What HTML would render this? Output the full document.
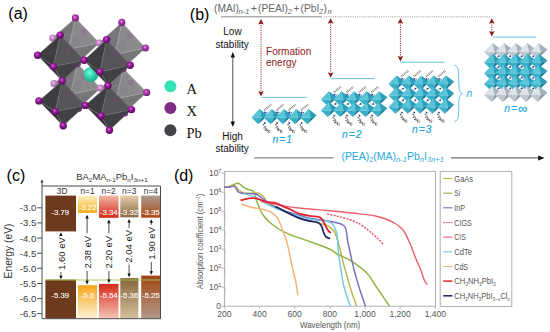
<!DOCTYPE html>
<html><head><meta charset="utf-8"><title>Figure</title>
<style>
html,body{margin:0;padding:0;background:#fff;}
body{width:550px;height:332px;overflow:hidden;}
svg{display:block;}
.san{font-family:"Liberation Sans",Arial,sans-serif;}
.ser{font-family:"Liberation Serif","Times New Roman",serif;font-size:14.5px;fill:#111;}
.lab{font-family:"Liberation Sans",Arial,sans-serif;font-size:16px;fill:#000;}
.it{font-style:italic;}
.sub{font-size:7.6px;font-style:italic;}
.subn{font-size:7.2px;}
.subc{font-size:6.2px;}
.ls{font-size:5.6px;}
</style></head><body>
<svg width="550" height="332" viewBox="0 0 550 332">
<defs>
<radialGradient id="xd" cx="0.42" cy="0.38" r="0.6"><stop offset="0" stop-color="#e070e0"/><stop offset="0.35" stop-color="#a020a4"/><stop offset="1" stop-color="#5a0a5e"/></radialGradient>
<radialGradient id="xm" cx="0.42" cy="0.38" r="0.6"><stop offset="0" stop-color="#ee90ee"/><stop offset="0.35" stop-color="#b040b4"/><stop offset="1" stop-color="#7a207e"/></radialGradient>
<radialGradient id="xl" cx="0.42" cy="0.38" r="0.6"><stop offset="0" stop-color="#f4c8f4"/><stop offset="0.4" stop-color="#c88aca"/><stop offset="1" stop-color="#a868aa"/></radialGradient>
<radialGradient id="aA" cx="0.4" cy="0.38" r="0.65"><stop offset="0" stop-color="#8af5dc"/><stop offset="0.4" stop-color="#35dcb4"/><stop offset="1" stop-color="#18a888"/></radialGradient>
<filter id="blurA" x="-5%" y="-5%" width="110%" height="110%"><feGaussianBlur stdDeviation="0.35"/></filter>
<filter id="blurB" x="-5%" y="-5%" width="110%" height="110%"><feGaussianBlur stdDeviation="0.3"/></filter><linearGradient id="g1t" x1="0" y1="0" x2="0" y2="1"><stop offset="0" stop-color="#fdf0c0"/><stop offset="1" stop-color="#f5ae1c"/></linearGradient><linearGradient id="g1b" x1="0" y1="0" x2="0" y2="1"><stop offset="0" stop-color="#f5a61a"/><stop offset="1" stop-color="#fef2d6"/></linearGradient><linearGradient id="g2t" x1="0" y1="0" x2="0" y2="1"><stop offset="0" stop-color="#f2b8a4"/><stop offset="1" stop-color="#d42818"/></linearGradient><linearGradient id="g2b" x1="0" y1="0" x2="0" y2="1"><stop offset="0" stop-color="#d62a1a"/><stop offset="1" stop-color="#f4c4b6"/></linearGradient><linearGradient id="g3t" x1="0" y1="0" x2="0" y2="1"><stop offset="0" stop-color="#e4ccaa"/><stop offset="1" stop-color="#8a6a44"/></linearGradient><linearGradient id="g3b" x1="0" y1="0" x2="0" y2="1"><stop offset="0" stop-color="#86643a"/><stop offset="1" stop-color="#d6c09a"/></linearGradient><linearGradient id="g4t" x1="0" y1="0" x2="0" y2="1"><stop offset="0" stop-color="#aa9a90"/><stop offset="1" stop-color="#ae4814"/></linearGradient><linearGradient id="g4b" x1="0" y1="0" x2="0" y2="1"><stop offset="0" stop-color="#a04614"/><stop offset="1" stop-color="#b49888"/></linearGradient></defs>
<rect width="550" height="332" fill="#fff"/>
<g id="panel-a">
<g filter="url(#blurA)">
<polygon points="52.8,38 75.4,17.9 68.6,49.3" fill="#767678"/><polygon points="75.4,17.9 99.3,43 68.6,49.3" fill="#8a8a8c"/><polygon points="99.3,43 77.4,63.6 68.6,49.3" fill="#767678"/><polygon points="77.4,63.6 52.8,38 68.6,49.3" fill="#666668"/><circle cx="76" cy="40.8" r="4.6" fill="#84848a" opacity="0.8"/><circle cx="83.5" cy="32.2" r="3" fill="#8a3a8c" opacity="0.2"/><line x1="83.5" y1="32.2" x2="52.8" y2="38" stroke="#a0a0a2" stroke-width="0.5" opacity="0.35"/><line x1="83.5" y1="32.2" x2="75.4" y2="17.9" stroke="#a0a0a2" stroke-width="0.5" opacity="0.35"/><line x1="83.5" y1="32.2" x2="99.3" y2="43" stroke="#a0a0a2" stroke-width="0.5" opacity="0.35"/><line x1="83.5" y1="32.2" x2="77.4" y2="63.6" stroke="#a0a0a2" stroke-width="0.5" opacity="0.35"/><line x1="68.6" y1="49.3" x2="52.8" y2="38" stroke="#a0a0a2" stroke-width="0.7"/><line x1="68.6" y1="49.3" x2="75.4" y2="17.9" stroke="#a0a0a2" stroke-width="0.7"/><line x1="68.6" y1="49.3" x2="99.3" y2="43" stroke="#a0a0a2" stroke-width="0.7"/><line x1="68.6" y1="49.3" x2="77.4" y2="63.6" stroke="#a0a0a2" stroke-width="0.7"/><polygon points="52.8,38 75.4,17.9 99.3,43 77.4,63.6" fill="none" stroke="#a0a0a2" stroke-width="0.6"/>
<polygon points="99.3,43 121.8,22.4 115.1,54.5" fill="#767678"/><polygon points="121.8,22.4 145.4,48 115.1,54.5" fill="#8a8a8c"/><polygon points="145.4,48 123.2,68.4 115.1,54.5" fill="#767678"/><polygon points="123.2,68.4 99.3,43 115.1,54.5" fill="#666668"/><circle cx="122.3" cy="45.4" r="4.6" fill="#84848a" opacity="0.8"/><circle cx="129.6" cy="36.3" r="3" fill="#8a3a8c" opacity="0.2"/><line x1="129.6" y1="36.3" x2="99.3" y2="43" stroke="#a0a0a2" stroke-width="0.5" opacity="0.35"/><line x1="129.6" y1="36.3" x2="121.8" y2="22.4" stroke="#a0a0a2" stroke-width="0.5" opacity="0.35"/><line x1="129.6" y1="36.3" x2="145.4" y2="48" stroke="#a0a0a2" stroke-width="0.5" opacity="0.35"/><line x1="129.6" y1="36.3" x2="123.2" y2="68.4" stroke="#a0a0a2" stroke-width="0.5" opacity="0.35"/><line x1="115.1" y1="54.5" x2="99.3" y2="43" stroke="#a0a0a2" stroke-width="0.7"/><line x1="115.1" y1="54.5" x2="121.8" y2="22.4" stroke="#a0a0a2" stroke-width="0.7"/><line x1="115.1" y1="54.5" x2="145.4" y2="48" stroke="#a0a0a2" stroke-width="0.7"/><line x1="115.1" y1="54.5" x2="123.2" y2="68.4" stroke="#a0a0a2" stroke-width="0.7"/><polygon points="99.3,43 121.8,22.4 145.4,48 123.2,68.4" fill="none" stroke="#a0a0a2" stroke-width="0.6"/>
<polygon points="54.1,83.7 77.4,63.6 70.4,94.4" fill="#767678"/><polygon points="77.4,63.6 100.5,88.2 70.4,94.4" fill="#8a8a8c"/><polygon points="100.5,88.2 78.4,108.5 70.4,94.4" fill="#767678"/><polygon points="78.4,108.5 54.1,83.7 70.4,94.4" fill="#666668"/><circle cx="77.3" cy="86" r="4.6" fill="#84848a" opacity="0.8"/><circle cx="84.2" cy="77.7" r="3" fill="#8a3a8c" opacity="0.2"/><line x1="84.2" y1="77.7" x2="54.1" y2="83.7" stroke="#a0a0a2" stroke-width="0.5" opacity="0.35"/><line x1="84.2" y1="77.7" x2="77.4" y2="63.6" stroke="#a0a0a2" stroke-width="0.5" opacity="0.35"/><line x1="84.2" y1="77.7" x2="100.5" y2="88.2" stroke="#a0a0a2" stroke-width="0.5" opacity="0.35"/><line x1="84.2" y1="77.7" x2="78.4" y2="108.5" stroke="#a0a0a2" stroke-width="0.5" opacity="0.35"/><line x1="70.4" y1="94.4" x2="54.1" y2="83.7" stroke="#a0a0a2" stroke-width="0.7"/><line x1="70.4" y1="94.4" x2="77.4" y2="63.6" stroke="#a0a0a2" stroke-width="0.7"/><line x1="70.4" y1="94.4" x2="100.5" y2="88.2" stroke="#a0a0a2" stroke-width="0.7"/><line x1="70.4" y1="94.4" x2="78.4" y2="108.5" stroke="#a0a0a2" stroke-width="0.7"/><polygon points="54.1,83.7 77.4,63.6 100.5,88.2 78.4,108.5" fill="none" stroke="#a0a0a2" stroke-width="0.6"/>
<polygon points="100.5,88.2 123.2,68.4 116.3,98.7" fill="#767678"/><polygon points="123.2,68.4 146.7,92.4 116.3,98.7" fill="#8a8a8c"/><polygon points="146.7,92.4 124.6,113 116.3,98.7" fill="#767678"/><polygon points="124.6,113 100.5,88.2 116.3,98.7" fill="#666668"/><circle cx="123.6" cy="90.7" r="4.6" fill="#84848a" opacity="0.8"/><circle cx="130.9" cy="82.7" r="3" fill="#8a3a8c" opacity="0.2"/><line x1="130.9" y1="82.7" x2="100.5" y2="88.2" stroke="#a0a0a2" stroke-width="0.5" opacity="0.35"/><line x1="130.9" y1="82.7" x2="123.2" y2="68.4" stroke="#a0a0a2" stroke-width="0.5" opacity="0.35"/><line x1="130.9" y1="82.7" x2="146.7" y2="92.4" stroke="#a0a0a2" stroke-width="0.5" opacity="0.35"/><line x1="130.9" y1="82.7" x2="124.6" y2="113" stroke="#a0a0a2" stroke-width="0.5" opacity="0.35"/><line x1="116.3" y1="98.7" x2="100.5" y2="88.2" stroke="#a0a0a2" stroke-width="0.7"/><line x1="116.3" y1="98.7" x2="123.2" y2="68.4" stroke="#a0a0a2" stroke-width="0.7"/><line x1="116.3" y1="98.7" x2="146.7" y2="92.4" stroke="#a0a0a2" stroke-width="0.7"/><line x1="116.3" y1="98.7" x2="124.6" y2="113" stroke="#a0a0a2" stroke-width="0.7"/><polygon points="100.5,88.2 123.2,68.4 146.7,92.4 124.6,113" fill="none" stroke="#a0a0a2" stroke-width="0.6"/>
<circle cx="52.8" cy="38" r="3.6" fill="url(#xl)"/>
<circle cx="75.4" cy="17.9" r="3.6" fill="url(#xm)"/>
<circle cx="99.3" cy="43" r="3.6" fill="url(#xl)"/>
<circle cx="77.4" cy="63.6" r="3.6" fill="url(#xm)"/>
<circle cx="121.8" cy="22.4" r="3.6" fill="url(#xm)"/>
<circle cx="145.4" cy="48" r="3.6" fill="url(#xm)"/>
<circle cx="123.2" cy="68.4" r="3.6" fill="url(#xm)"/>
<circle cx="54.1" cy="83.7" r="3.6" fill="url(#xl)"/>
<circle cx="100.5" cy="88.2" r="3.6" fill="url(#xl)"/>
<circle cx="78.4" cy="108.5" r="3.6" fill="url(#xm)"/>
<circle cx="146.7" cy="92.4" r="3.6" fill="url(#xm)"/>
<circle cx="124.6" cy="113" r="3.6" fill="url(#xm)"/>
<circle cx="91" cy="74.4" r="7.5" fill="url(#aA)"/>
<polygon points="37.6,55.2 60.2,35.1 53.4,66.5" fill="#3c3c40"/><polygon points="60.2,35.1 84.1,60.2 53.4,66.5" fill="#545458"/><polygon points="84.1,60.2 62.2,80.8 53.4,66.5" fill="#404044"/><polygon points="62.2,80.8 37.6,55.2 53.4,66.5" fill="#303034"/><circle cx="60.8" cy="58" r="4.6" fill="#56565a" opacity="0.8"/><circle cx="68.3" cy="49.4" r="3" fill="#8a3a8c" opacity="0.2"/><line x1="68.3" y1="49.4" x2="37.6" y2="55.2" stroke="#6e6e72" stroke-width="0.5" opacity="0.35"/><line x1="68.3" y1="49.4" x2="60.2" y2="35.1" stroke="#6e6e72" stroke-width="0.5" opacity="0.35"/><line x1="68.3" y1="49.4" x2="84.1" y2="60.2" stroke="#6e6e72" stroke-width="0.5" opacity="0.35"/><line x1="68.3" y1="49.4" x2="62.2" y2="80.8" stroke="#6e6e72" stroke-width="0.5" opacity="0.35"/><line x1="53.4" y1="66.5" x2="37.6" y2="55.2" stroke="#6e6e72" stroke-width="0.7"/><line x1="53.4" y1="66.5" x2="60.2" y2="35.1" stroke="#6e6e72" stroke-width="0.7"/><line x1="53.4" y1="66.5" x2="84.1" y2="60.2" stroke="#6e6e72" stroke-width="0.7"/><line x1="53.4" y1="66.5" x2="62.2" y2="80.8" stroke="#6e6e72" stroke-width="0.7"/><polygon points="37.6,55.2 60.2,35.1 84.1,60.2 62.2,80.8" fill="none" stroke="#6e6e72" stroke-width="0.6"/>
<polygon points="84.1,60.2 106.6,39.6 99.9,71.7" fill="#3c3c40"/><polygon points="106.6,39.6 130.2,65.2 99.9,71.7" fill="#545458"/><polygon points="130.2,65.2 108,85.6 99.9,71.7" fill="#404044"/><polygon points="108,85.6 84.1,60.2 99.9,71.7" fill="#303034"/><circle cx="107.1" cy="62.6" r="4.6" fill="#56565a" opacity="0.8"/><circle cx="114.4" cy="53.5" r="3" fill="#8a3a8c" opacity="0.2"/><line x1="114.4" y1="53.5" x2="84.1" y2="60.2" stroke="#6e6e72" stroke-width="0.5" opacity="0.35"/><line x1="114.4" y1="53.5" x2="106.6" y2="39.6" stroke="#6e6e72" stroke-width="0.5" opacity="0.35"/><line x1="114.4" y1="53.5" x2="130.2" y2="65.2" stroke="#6e6e72" stroke-width="0.5" opacity="0.35"/><line x1="114.4" y1="53.5" x2="108" y2="85.6" stroke="#6e6e72" stroke-width="0.5" opacity="0.35"/><line x1="99.9" y1="71.7" x2="84.1" y2="60.2" stroke="#6e6e72" stroke-width="0.7"/><line x1="99.9" y1="71.7" x2="106.6" y2="39.6" stroke="#6e6e72" stroke-width="0.7"/><line x1="99.9" y1="71.7" x2="130.2" y2="65.2" stroke="#6e6e72" stroke-width="0.7"/><line x1="99.9" y1="71.7" x2="108" y2="85.6" stroke="#6e6e72" stroke-width="0.7"/><polygon points="84.1,60.2 106.6,39.6 130.2,65.2 108,85.6" fill="none" stroke="#6e6e72" stroke-width="0.6"/>
<polygon points="38.9,100.9 62.2,80.8 55.2,111.6" fill="#3c3c40"/><polygon points="62.2,80.8 85.3,105.4 55.2,111.6" fill="#545458"/><polygon points="85.3,105.4 63.2,125.7 55.2,111.6" fill="#404044"/><polygon points="63.2,125.7 38.9,100.9 55.2,111.6" fill="#303034"/><circle cx="62.1" cy="103.2" r="4.6" fill="#56565a" opacity="0.8"/><circle cx="69" cy="94.9" r="3" fill="#8a3a8c" opacity="0.2"/><line x1="69" y1="94.9" x2="38.9" y2="100.9" stroke="#6e6e72" stroke-width="0.5" opacity="0.35"/><line x1="69" y1="94.9" x2="62.2" y2="80.8" stroke="#6e6e72" stroke-width="0.5" opacity="0.35"/><line x1="69" y1="94.9" x2="85.3" y2="105.4" stroke="#6e6e72" stroke-width="0.5" opacity="0.35"/><line x1="69" y1="94.9" x2="63.2" y2="125.7" stroke="#6e6e72" stroke-width="0.5" opacity="0.35"/><line x1="55.2" y1="111.6" x2="38.9" y2="100.9" stroke="#6e6e72" stroke-width="0.7"/><line x1="55.2" y1="111.6" x2="62.2" y2="80.8" stroke="#6e6e72" stroke-width="0.7"/><line x1="55.2" y1="111.6" x2="85.3" y2="105.4" stroke="#6e6e72" stroke-width="0.7"/><line x1="55.2" y1="111.6" x2="63.2" y2="125.7" stroke="#6e6e72" stroke-width="0.7"/><polygon points="38.9,100.9 62.2,80.8 85.3,105.4 63.2,125.7" fill="none" stroke="#6e6e72" stroke-width="0.6"/>
<polygon points="85.3,105.4 108,85.6 101.1,115.9" fill="#3c3c40"/><polygon points="108,85.6 131.5,109.6 101.1,115.9" fill="#545458"/><polygon points="131.5,109.6 109.4,130.2 101.1,115.9" fill="#404044"/><polygon points="109.4,130.2 85.3,105.4 101.1,115.9" fill="#303034"/><circle cx="108.4" cy="107.9" r="4.6" fill="#56565a" opacity="0.8"/><circle cx="115.7" cy="99.9" r="3" fill="#8a3a8c" opacity="0.2"/><line x1="115.7" y1="99.9" x2="85.3" y2="105.4" stroke="#6e6e72" stroke-width="0.5" opacity="0.35"/><line x1="115.7" y1="99.9" x2="108" y2="85.6" stroke="#6e6e72" stroke-width="0.5" opacity="0.35"/><line x1="115.7" y1="99.9" x2="131.5" y2="109.6" stroke="#6e6e72" stroke-width="0.5" opacity="0.35"/><line x1="115.7" y1="99.9" x2="109.4" y2="130.2" stroke="#6e6e72" stroke-width="0.5" opacity="0.35"/><line x1="101.1" y1="115.9" x2="85.3" y2="105.4" stroke="#6e6e72" stroke-width="0.7"/><line x1="101.1" y1="115.9" x2="108" y2="85.6" stroke="#6e6e72" stroke-width="0.7"/><line x1="101.1" y1="115.9" x2="131.5" y2="109.6" stroke="#6e6e72" stroke-width="0.7"/><line x1="101.1" y1="115.9" x2="109.4" y2="130.2" stroke="#6e6e72" stroke-width="0.7"/><polygon points="85.3,105.4 108,85.6 131.5,109.6 109.4,130.2" fill="none" stroke="#6e6e72" stroke-width="0.6"/>
<circle cx="37.6" cy="55.2" r="3.7" fill="url(#xd)"/>
<circle cx="60.2" cy="35.1" r="3.7" fill="url(#xd)"/>
<circle cx="84.1" cy="60.2" r="3.7" fill="url(#xd)"/>
<circle cx="62.2" cy="80.8" r="3.7" fill="url(#xd)"/>
<circle cx="53.4" cy="66.5" r="3.7" fill="url(#xd)"/>
<circle cx="106.6" cy="39.6" r="3.7" fill="url(#xd)"/>
<circle cx="130.2" cy="65.2" r="3.7" fill="url(#xd)"/>
<circle cx="108" cy="85.6" r="3.7" fill="url(#xd)"/>
<circle cx="99.9" cy="71.7" r="3.7" fill="url(#xd)"/>
<circle cx="38.9" cy="100.9" r="3.7" fill="url(#xd)"/>
<circle cx="85.3" cy="105.4" r="3.7" fill="url(#xd)"/>
<circle cx="63.2" cy="125.7" r="3.7" fill="url(#xd)"/>
<circle cx="55.2" cy="111.6" r="3.7" fill="url(#xd)"/>
<circle cx="131.5" cy="109.6" r="3.7" fill="url(#xd)"/>
<circle cx="109.4" cy="130.2" r="3.7" fill="url(#xd)"/>
<circle cx="101.1" cy="115.9" r="3.7" fill="url(#xd)"/>
</g>
<circle cx="170.4" cy="86.3" r="6" fill="#33e3b6"/>
<circle cx="170.4" cy="108.1" r="6" fill="#7f2c84"/>
<circle cx="170.4" cy="130.2" r="6" fill="#424248"/>
<text x="186.5" y="93.8" class="ser">A</text>
<text x="186.5" y="116.4" class="ser">X</text>
<text x="186.5" y="137.7" class="ser">Pb</text>
<text x="8.3" y="18.9" class="lab">(a)</text>
</g>
<g id="panel-b">
<text x="189.8" y="20" class="lab">(b)</text>
<text y="12" class="san" font-size="10.2" fill="#666"><tspan x="214">(MAI)</tspan><tspan class="sub" dy="2.2" dx="-0.4">n-1</tspan><tspan dy="-2.2" x="251">+</tspan><tspan x="258">(PEAI)</tspan><tspan class="sub" dy="2.2" dx="-0.3">2</tspan><tspan dy="-2.2" x="293.4">+</tspan><tspan x="300.6">(PbI</tspan><tspan class="sub" dy="2.2" dx="-0.2">2</tspan><tspan dy="-2.2" dx="0.2">)</tspan><tspan class="sub" dy="2.2" dx="0.6">n</tspan></text>
<line x1="220.9" y1="16.8" x2="322" y2="16.8" stroke="#8a8a8a" stroke-width="1"/>
<line x1="324" y1="16.8" x2="491.8" y2="16.8" stroke="#8f807c" stroke-width="0.75" stroke-dasharray="1.1 1.1"/>
<line x1="261" y1="23" x2="261" y2="92.5" stroke="#8c1c1c" stroke-width="0.9" stroke-dasharray="1.2 1.1"/><polygon points="261,19 258.2,24.6 261,23.5 263.8,24.6" fill="#8c1c1c"/><polygon points="261,96.5 258.2,90.9 261,92 263.8,90.9" fill="#8c1c1c"/>
<line x1="330.6" y1="22.2" x2="330.6" y2="73.8" stroke="#8c1c1c" stroke-width="0.9" stroke-dasharray="1.2 1.1"/><polygon points="330.6,18.2 327.8,23.8 330.6,22.7 333.4,23.8" fill="#8c1c1c"/><polygon points="330.6,77.8 327.8,72.2 330.6,73.3 333.4,72.2" fill="#8c1c1c"/>
<line x1="400.4" y1="22.2" x2="400.4" y2="57.4" stroke="#8c1c1c" stroke-width="0.9" stroke-dasharray="1.2 1.1"/><polygon points="400.4,18.2 397.6,23.8 400.4,22.7 403.2,23.8" fill="#8c1c1c"/><polygon points="400.4,61.4 397.6,55.8 400.4,56.9 403.2,55.8" fill="#8c1c1c"/>
<line x1="491.8" y1="22.2" x2="491.8" y2="32.6" stroke="#8c1c1c" stroke-width="0.9" stroke-dasharray="1.2 1.1"/><polygon points="491.8,18.2 489,23.8 491.8,22.7 494.6,23.8" fill="#8c1c1c"/><polygon points="491.8,36.6 489,31 491.8,32.1 494.6,31" fill="#8c1c1c"/>
<line x1="261.5" y1="97.4" x2="306.4" y2="97.4" stroke="#52bde9" stroke-width="0.9"/>
<line x1="330.6" y1="78.6" x2="374.5" y2="78.6" stroke="#52bde9" stroke-width="0.9"/>
<line x1="400" y1="62.2" x2="444.6" y2="62.2" stroke="#52bde9" stroke-width="0.9"/>
<line x1="493" y1="37.1" x2="536.2" y2="37.1" stroke="#52bde9" stroke-width="0.9"/>
<text x="232.5" y="34.9" class="san" font-size="10" text-anchor="middle" fill="#111">Low</text>
<text x="232.2" y="47.5" class="san" font-size="10" text-anchor="middle" fill="#111">stability</text>
<text x="232.5" y="140.4" class="san" font-size="10" text-anchor="middle" fill="#111">High</text>
<text x="232.2" y="152.1" class="san" font-size="10" text-anchor="middle" fill="#111">stability</text>
<line x1="232.8" y1="56" x2="232.8" y2="123" stroke="#222" stroke-width="0.8"/>
<polygon points="232.8,52 230.6,57.6 235,57.6" fill="#111"/>
<polygon points="232.8,127.1 230.6,121.5 235,121.5" fill="#111"/>
<text x="266" y="54.5" class="san" font-size="10.05" fill="#8c1c1c">Formation</text>
<text x="266" y="65.9" class="san" font-size="10" fill="#8c1c1c">energy</text>
<g filter="url(#blurB)">
<polygon points="251.5,117.4 259.4,109 261.5,117.9" fill="#58c4d7"/><polygon points="259.4,109 267.7,115.2 261.5,117.9" fill="#2c9fbb"/><polygon points="251.5,117.4 261.5,117.9 258.3,124.2" fill="#38afc8"/><polygon points="261.5,117.9 267.7,115.2 258.3,124.2" fill="#157d99"/><polygon points="263.8,117.4 271.6,109 273.7,117.9" fill="#58c4d7"/><polygon points="271.6,109 279.9,115.2 273.7,117.9" fill="#2c9fbb"/><polygon points="263.8,117.4 273.7,117.9 270.5,124.2" fill="#38afc8"/><polygon points="273.7,117.9 279.9,115.2 270.5,124.2" fill="#157d99"/><polygon points="276,117.4 283.9,109 286,117.9" fill="#58c4d7"/><polygon points="283.9,109 292.2,115.2 286,117.9" fill="#2c9fbb"/><polygon points="276,117.4 286,117.9 282.8,124.2" fill="#38afc8"/><polygon points="286,117.9 292.2,115.2 282.8,124.2" fill="#157d99"/><polygon points="288.3,117.4 296.2,109 298.3,117.9" fill="#58c4d7"/><polygon points="296.2,109 304.4,115.2 298.3,117.9" fill="#2c9fbb"/><polygon points="288.3,117.4 298.3,117.9 295.1,124.2" fill="#38afc8"/><polygon points="298.3,117.9 304.4,115.2 295.1,124.2" fill="#157d99"/><polygon points="300.5,117.4 308.4,109 310.5,117.9" fill="#58c4d7"/><polygon points="308.4,109 316.7,115.2 310.5,117.9" fill="#2c9fbb"/><polygon points="300.5,117.4 310.5,117.9 307.3,124.2" fill="#38afc8"/><polygon points="310.5,117.9 316.7,115.2 307.3,124.2" fill="#157d99"/><path d="M264.3 110.2 l6.8 -5.8" fill="none" stroke="#6a6a6a" stroke-width="1.9" stroke-dasharray="0.85 0.8"/><path d="M264.7 110 l6.4 -5.4" fill="none" stroke="#fff" stroke-width="0.5" stroke-dasharray="1.3 1.1" opacity="0.8"/><circle cx="264.9" cy="112.4" r="0.9" fill="#2a3a9a"/><circle cx="266.7" cy="112.7" r="0.6" fill="#444"/><circle cx="264.8" cy="123" r="0.9" fill="#2a3a9a"/><circle cx="263.4" cy="124.6" r="0.6" fill="#444"/><path d="M263.6 125 l1.6 1.6 l-1 1.2 l2.6 .6 l-1.2 1.4 l3 .8 l-1 1.4 l2.4 .6" fill="none" stroke="#6a6a6a" stroke-width="1.4" stroke-dasharray="0.85 0.8"/><path d="M264.8 129.6 l2.2 1 l2 -.4 l1.6 1" fill="none" stroke="#666" stroke-width="1.1" stroke-dasharray=".8 .7"/><path d="M276.6 110.2 l6.8 -5.8" fill="none" stroke="#6a6a6a" stroke-width="1.9" stroke-dasharray="0.85 0.8"/><path d="M277 110 l6.4 -5.4" fill="none" stroke="#fff" stroke-width="0.5" stroke-dasharray="1.3 1.1" opacity="0.8"/><circle cx="277.2" cy="112.4" r="0.9" fill="#2a3a9a"/><circle cx="279" cy="112.7" r="0.6" fill="#444"/><circle cx="277.1" cy="123" r="0.9" fill="#2a3a9a"/><circle cx="275.7" cy="124.6" r="0.6" fill="#444"/><path d="M275.9 125 l1.6 1.6 l-1 1.2 l2.6 .6 l-1.2 1.4 l3 .8 l-1 1.4 l2.4 .6" fill="none" stroke="#6a6a6a" stroke-width="1.4" stroke-dasharray="0.85 0.8"/><path d="M277.1 129.6 l2.2 1 l2 -.4 l1.6 1" fill="none" stroke="#666" stroke-width="1.1" stroke-dasharray=".8 .7"/><path d="M288.8 110.2 l6.8 -5.8" fill="none" stroke="#6a6a6a" stroke-width="1.9" stroke-dasharray="0.85 0.8"/><path d="M289.2 110 l6.4 -5.4" fill="none" stroke="#fff" stroke-width="0.5" stroke-dasharray="1.3 1.1" opacity="0.8"/><circle cx="289.4" cy="112.4" r="0.9" fill="#2a3a9a"/><circle cx="291.2" cy="112.7" r="0.6" fill="#444"/><circle cx="289.3" cy="123" r="0.9" fill="#2a3a9a"/><circle cx="287.9" cy="124.6" r="0.6" fill="#444"/><path d="M288.1 125 l1.6 1.6 l-1 1.2 l2.6 .6 l-1.2 1.4 l3 .8 l-1 1.4 l2.4 .6" fill="none" stroke="#6a6a6a" stroke-width="1.4" stroke-dasharray="0.85 0.8"/><path d="M289.3 129.6 l2.2 1 l2 -.4 l1.6 1" fill="none" stroke="#666" stroke-width="1.1" stroke-dasharray=".8 .7"/><path d="M301.1 110.2 l6.8 -5.8" fill="none" stroke="#6a6a6a" stroke-width="1.9" stroke-dasharray="0.85 0.8"/><path d="M301.5 110 l6.4 -5.4" fill="none" stroke="#fff" stroke-width="0.5" stroke-dasharray="1.3 1.1" opacity="0.8"/><circle cx="301.7" cy="112.4" r="0.9" fill="#2a3a9a"/><circle cx="303.5" cy="112.7" r="0.6" fill="#444"/><circle cx="301.6" cy="123" r="0.9" fill="#2a3a9a"/><circle cx="300.2" cy="124.6" r="0.6" fill="#444"/><path d="M300.4 125 l1.6 1.6 l-1 1.2 l2.6 .6 l-1.2 1.4 l3 .8 l-1 1.4 l2.4 .6" fill="none" stroke="#6a6a6a" stroke-width="1.4" stroke-dasharray="0.85 0.8"/><path d="M301.6 129.6 l2.2 1 l2 -.4 l1.6 1" fill="none" stroke="#666" stroke-width="1.1" stroke-dasharray=".8 .7"/>
<polygon points="320.8,99.4 328.9,91.3 331,99.9" fill="#58c4d7"/><polygon points="328.9,91.3 337.3,97.2 331,99.9" fill="#2c9fbb"/><polygon points="320.8,99.4 331,99.9 327.8,105.9" fill="#38afc8"/><polygon points="331,99.9 337.3,97.2 327.8,105.9" fill="#157d99"/><polygon points="333.3,99.4 341.4,91.3 343.5,99.9" fill="#58c4d7"/><polygon points="341.4,91.3 349.9,97.2 343.5,99.9" fill="#2c9fbb"/><polygon points="333.3,99.4 343.5,99.9 340.3,105.9" fill="#38afc8"/><polygon points="343.5,99.9 349.9,97.2 340.3,105.9" fill="#157d99"/><polygon points="345.9,99.4 353.9,91.3 356,99.9" fill="#58c4d7"/><polygon points="353.9,91.3 362.4,97.2 356,99.9" fill="#2c9fbb"/><polygon points="345.9,99.4 356,99.9 352.8,105.9" fill="#38afc8"/><polygon points="356,99.9 362.4,97.2 352.8,105.9" fill="#157d99"/><polygon points="358.4,99.4 366.5,91.3 368.6,99.9" fill="#58c4d7"/><polygon points="366.5,91.3 375,97.2 368.6,99.9" fill="#2c9fbb"/><polygon points="358.4,99.4 368.6,99.9 365.4,105.9" fill="#38afc8"/><polygon points="368.6,99.9 375,97.2 365.4,105.9" fill="#157d99"/><polygon points="371,99.4 379,91.3 381.1,99.9" fill="#58c4d7"/><polygon points="379,91.3 387.5,97.2 381.1,99.9" fill="#2c9fbb"/><polygon points="371,99.4 381.1,99.9 377.9,105.9" fill="#38afc8"/><polygon points="381.1,99.9 387.5,97.2 377.9,105.9" fill="#157d99"/><polygon points="320.8,110.4 328.9,102.3 331,110.9" fill="#58c4d7"/><polygon points="328.9,102.3 337.3,108.2 331,110.9" fill="#2c9fbb"/><polygon points="320.8,110.4 331,110.9 327.8,116.9" fill="#38afc8"/><polygon points="331,110.9 337.3,108.2 327.8,116.9" fill="#157d99"/><polygon points="333.3,110.4 341.4,102.3 343.5,110.9" fill="#58c4d7"/><polygon points="341.4,102.3 349.9,108.2 343.5,110.9" fill="#2c9fbb"/><polygon points="333.3,110.4 343.5,110.9 340.3,116.9" fill="#38afc8"/><polygon points="343.5,110.9 349.9,108.2 340.3,116.9" fill="#157d99"/><polygon points="345.9,110.4 353.9,102.3 356,110.9" fill="#58c4d7"/><polygon points="353.9,102.3 362.4,108.2 356,110.9" fill="#2c9fbb"/><polygon points="345.9,110.4 356,110.9 352.8,116.9" fill="#38afc8"/><polygon points="356,110.9 362.4,108.2 352.8,116.9" fill="#157d99"/><polygon points="358.4,110.4 366.5,102.3 368.6,110.9" fill="#58c4d7"/><polygon points="366.5,102.3 375,108.2 368.6,110.9" fill="#2c9fbb"/><polygon points="358.4,110.4 368.6,110.9 365.4,116.9" fill="#38afc8"/><polygon points="368.6,110.9 375,108.2 365.4,116.9" fill="#157d99"/><polygon points="371,110.4 379,102.3 381.1,110.9" fill="#58c4d7"/><polygon points="379,102.3 387.5,108.2 381.1,110.9" fill="#2c9fbb"/><polygon points="371,110.4 381.1,110.9 377.9,116.9" fill="#38afc8"/><polygon points="381.1,110.9 387.5,108.2 377.9,116.9" fill="#157d99"/><ellipse cx="335.3" cy="104.1" rx="1.9" ry="1.7" fill="#fff"/><circle cx="335.6" cy="103.9" r="0.9" fill="#26348f"/><circle cx="334.4" cy="104.6" r="0.5" fill="#777"/><ellipse cx="347.9" cy="104.1" rx="1.9" ry="1.7" fill="#fff"/><circle cx="348.2" cy="103.9" r="0.9" fill="#26348f"/><circle cx="347" cy="104.6" r="0.5" fill="#777"/><ellipse cx="360.4" cy="104.1" rx="1.9" ry="1.7" fill="#fff"/><circle cx="360.7" cy="103.9" r="0.9" fill="#26348f"/><circle cx="359.5" cy="104.6" r="0.5" fill="#777"/><ellipse cx="373" cy="104.1" rx="1.9" ry="1.7" fill="#fff"/><circle cx="373.3" cy="103.9" r="0.9" fill="#26348f"/><circle cx="372.1" cy="104.6" r="0.5" fill="#777"/><path d="M333.9 92.5 l6.8 -5.8" fill="none" stroke="#6a6a6a" stroke-width="1.9" stroke-dasharray="0.85 0.8"/><path d="M334.3 92.3 l6.4 -5.4" fill="none" stroke="#fff" stroke-width="0.5" stroke-dasharray="1.3 1.1" opacity="0.8"/><circle cx="334.5" cy="94.7" r="0.9" fill="#2a3a9a"/><circle cx="336.3" cy="95" r="0.6" fill="#444"/><circle cx="334.4" cy="115.7" r="0.9" fill="#2a3a9a"/><circle cx="333" cy="117.3" r="0.6" fill="#444"/><path d="M333.2 117.7 l1.6 1.6 l-1 1.2 l2.6 .6 l-1.2 1.4 l3 .8 l-1 1.4 l2.4 .6" fill="none" stroke="#6a6a6a" stroke-width="1.4" stroke-dasharray="0.85 0.8"/><path d="M334.4 122.3 l2.2 1 l2 -.4 l1.6 1" fill="none" stroke="#666" stroke-width="1.1" stroke-dasharray=".8 .7"/><path d="M346.5 92.5 l6.8 -5.8" fill="none" stroke="#6a6a6a" stroke-width="1.9" stroke-dasharray="0.85 0.8"/><path d="M346.9 92.3 l6.4 -5.4" fill="none" stroke="#fff" stroke-width="0.5" stroke-dasharray="1.3 1.1" opacity="0.8"/><circle cx="347.1" cy="94.7" r="0.9" fill="#2a3a9a"/><circle cx="348.9" cy="95" r="0.6" fill="#444"/><circle cx="347" cy="115.7" r="0.9" fill="#2a3a9a"/><circle cx="345.6" cy="117.3" r="0.6" fill="#444"/><path d="M345.8 117.7 l1.6 1.6 l-1 1.2 l2.6 .6 l-1.2 1.4 l3 .8 l-1 1.4 l2.4 .6" fill="none" stroke="#6a6a6a" stroke-width="1.4" stroke-dasharray="0.85 0.8"/><path d="M347 122.3 l2.2 1 l2 -.4 l1.6 1" fill="none" stroke="#666" stroke-width="1.1" stroke-dasharray=".8 .7"/><path d="M359 92.5 l6.8 -5.8" fill="none" stroke="#6a6a6a" stroke-width="1.9" stroke-dasharray="0.85 0.8"/><path d="M359.4 92.3 l6.4 -5.4" fill="none" stroke="#fff" stroke-width="0.5" stroke-dasharray="1.3 1.1" opacity="0.8"/><circle cx="359.6" cy="94.7" r="0.9" fill="#2a3a9a"/><circle cx="361.4" cy="95" r="0.6" fill="#444"/><circle cx="359.5" cy="115.7" r="0.9" fill="#2a3a9a"/><circle cx="358.1" cy="117.3" r="0.6" fill="#444"/><path d="M358.3 117.7 l1.6 1.6 l-1 1.2 l2.6 .6 l-1.2 1.4 l3 .8 l-1 1.4 l2.4 .6" fill="none" stroke="#6a6a6a" stroke-width="1.4" stroke-dasharray="0.85 0.8"/><path d="M359.5 122.3 l2.2 1 l2 -.4 l1.6 1" fill="none" stroke="#666" stroke-width="1.1" stroke-dasharray=".8 .7"/><path d="M371.6 92.5 l6.8 -5.8" fill="none" stroke="#6a6a6a" stroke-width="1.9" stroke-dasharray="0.85 0.8"/><path d="M372 92.3 l6.4 -5.4" fill="none" stroke="#fff" stroke-width="0.5" stroke-dasharray="1.3 1.1" opacity="0.8"/><circle cx="372.2" cy="94.7" r="0.9" fill="#2a3a9a"/><circle cx="374" cy="95" r="0.6" fill="#444"/><circle cx="372.1" cy="115.7" r="0.9" fill="#2a3a9a"/><circle cx="370.7" cy="117.3" r="0.6" fill="#444"/><path d="M370.9 117.7 l1.6 1.6 l-1 1.2 l2.6 .6 l-1.2 1.4 l3 .8 l-1 1.4 l2.4 .6" fill="none" stroke="#6a6a6a" stroke-width="1.4" stroke-dasharray="0.85 0.8"/><path d="M372.1 122.3 l2.2 1 l2 -.4 l1.6 1" fill="none" stroke="#666" stroke-width="1.1" stroke-dasharray=".8 .7"/>
<polygon points="388.5,83.8 396.5,75.4 398.6,84.3" fill="#58c4d7"/><polygon points="396.5,75.4 404.8,81.6 398.6,84.3" fill="#2c9fbb"/><polygon points="388.5,83.8 398.6,84.3 395.4,90.7" fill="#38afc8"/><polygon points="398.6,84.3 404.8,81.6 395.4,90.7" fill="#157d99"/><polygon points="400.8,83.8 408.8,75.4 410.9,84.3" fill="#58c4d7"/><polygon points="408.8,75.4 417.2,81.6 410.9,84.3" fill="#2c9fbb"/><polygon points="400.8,83.8 410.9,84.3 407.7,90.7" fill="#38afc8"/><polygon points="410.9,84.3 417.2,81.6 407.7,90.7" fill="#157d99"/><polygon points="413.2,83.8 421.2,75.4 423.2,84.3" fill="#58c4d7"/><polygon points="421.2,75.4 429.5,81.6 423.2,84.3" fill="#2c9fbb"/><polygon points="413.2,83.8 423.2,84.3 420.1,90.7" fill="#38afc8"/><polygon points="423.2,84.3 429.5,81.6 420.1,90.7" fill="#157d99"/><polygon points="425.5,83.8 433.5,75.4 435.6,84.3" fill="#58c4d7"/><polygon points="433.5,75.4 441.9,81.6 435.6,84.3" fill="#2c9fbb"/><polygon points="425.5,83.8 435.6,84.3 432.4,90.7" fill="#38afc8"/><polygon points="435.6,84.3 441.9,81.6 432.4,90.7" fill="#157d99"/><polygon points="437.9,83.8 445.8,75.4 447.9,84.3" fill="#58c4d7"/><polygon points="445.8,75.4 454.2,81.6 447.9,84.3" fill="#2c9fbb"/><polygon points="437.9,83.8 447.9,84.3 444.7,90.7" fill="#38afc8"/><polygon points="447.9,84.3 454.2,81.6 444.7,90.7" fill="#157d99"/><polygon points="388.5,95.4 396.5,87 398.6,95.9" fill="#58c4d7"/><polygon points="396.5,87 404.8,93.2 398.6,95.9" fill="#2c9fbb"/><polygon points="388.5,95.4 398.6,95.9 395.4,102.2" fill="#38afc8"/><polygon points="398.6,95.9 404.8,93.2 395.4,102.2" fill="#157d99"/><polygon points="400.8,95.4 408.8,87 410.9,95.9" fill="#58c4d7"/><polygon points="408.8,87 417.2,93.2 410.9,95.9" fill="#2c9fbb"/><polygon points="400.8,95.4 410.9,95.9 407.7,102.2" fill="#38afc8"/><polygon points="410.9,95.9 417.2,93.2 407.7,102.2" fill="#157d99"/><polygon points="413.2,95.4 421.2,87 423.2,95.9" fill="#58c4d7"/><polygon points="421.2,87 429.5,93.2 423.2,95.9" fill="#2c9fbb"/><polygon points="413.2,95.4 423.2,95.9 420.1,102.2" fill="#38afc8"/><polygon points="423.2,95.9 429.5,93.2 420.1,102.2" fill="#157d99"/><polygon points="425.5,95.4 433.5,87 435.6,95.9" fill="#58c4d7"/><polygon points="433.5,87 441.9,93.2 435.6,95.9" fill="#2c9fbb"/><polygon points="425.5,95.4 435.6,95.9 432.4,102.2" fill="#38afc8"/><polygon points="435.6,95.9 441.9,93.2 432.4,102.2" fill="#157d99"/><polygon points="437.9,95.4 445.8,87 447.9,95.9" fill="#58c4d7"/><polygon points="445.8,87 454.2,93.2 447.9,95.9" fill="#2c9fbb"/><polygon points="437.9,95.4 447.9,95.9 444.7,102.2" fill="#38afc8"/><polygon points="447.9,95.9 454.2,93.2 444.7,102.2" fill="#157d99"/><polygon points="388.5,107 396.5,98.5 398.6,107.5" fill="#58c4d7"/><polygon points="396.5,98.5 404.8,104.8 398.6,107.5" fill="#2c9fbb"/><polygon points="388.5,107 398.6,107.5 395.4,113.8" fill="#38afc8"/><polygon points="398.6,107.5 404.8,104.8 395.4,113.8" fill="#157d99"/><polygon points="400.8,107 408.8,98.5 410.9,107.5" fill="#58c4d7"/><polygon points="408.8,98.5 417.2,104.8 410.9,107.5" fill="#2c9fbb"/><polygon points="400.8,107 410.9,107.5 407.7,113.8" fill="#38afc8"/><polygon points="410.9,107.5 417.2,104.8 407.7,113.8" fill="#157d99"/><polygon points="413.2,107 421.2,98.5 423.2,107.5" fill="#58c4d7"/><polygon points="421.2,98.5 429.5,104.8 423.2,107.5" fill="#2c9fbb"/><polygon points="413.2,107 423.2,107.5 420.1,113.8" fill="#38afc8"/><polygon points="423.2,107.5 429.5,104.8 420.1,113.8" fill="#157d99"/><polygon points="425.5,107 433.5,98.5 435.6,107.5" fill="#58c4d7"/><polygon points="433.5,98.5 441.9,104.8 435.6,107.5" fill="#2c9fbb"/><polygon points="425.5,107 435.6,107.5 432.4,113.8" fill="#38afc8"/><polygon points="435.6,107.5 441.9,104.8 432.4,113.8" fill="#157d99"/><polygon points="437.9,107 445.8,98.5 447.9,107.5" fill="#58c4d7"/><polygon points="445.8,98.5 454.2,104.8 447.9,107.5" fill="#2c9fbb"/><polygon points="437.9,107 447.9,107.5 444.7,113.8" fill="#38afc8"/><polygon points="447.9,107.5 454.2,104.8 444.7,113.8" fill="#157d99"/><ellipse cx="402.8" cy="88.8" rx="1.9" ry="1.7" fill="#fff"/><circle cx="403.1" cy="88.6" r="0.9" fill="#26348f"/><circle cx="401.9" cy="89.3" r="0.5" fill="#777"/><ellipse cx="415.2" cy="88.8" rx="1.9" ry="1.7" fill="#fff"/><circle cx="415.5" cy="88.6" r="0.9" fill="#26348f"/><circle cx="414.3" cy="89.3" r="0.5" fill="#777"/><ellipse cx="427.5" cy="88.8" rx="1.9" ry="1.7" fill="#fff"/><circle cx="427.8" cy="88.6" r="0.9" fill="#26348f"/><circle cx="426.6" cy="89.3" r="0.5" fill="#777"/><ellipse cx="439.9" cy="88.8" rx="1.9" ry="1.7" fill="#fff"/><circle cx="440.2" cy="88.6" r="0.9" fill="#26348f"/><circle cx="439" cy="89.3" r="0.5" fill="#777"/><ellipse cx="402.8" cy="100.4" rx="1.9" ry="1.7" fill="#fff"/><circle cx="403.1" cy="100.2" r="0.9" fill="#26348f"/><circle cx="401.9" cy="100.9" r="0.5" fill="#777"/><ellipse cx="415.2" cy="100.4" rx="1.9" ry="1.7" fill="#fff"/><circle cx="415.5" cy="100.2" r="0.9" fill="#26348f"/><circle cx="414.3" cy="100.9" r="0.5" fill="#777"/><ellipse cx="427.5" cy="100.4" rx="1.9" ry="1.7" fill="#fff"/><circle cx="427.8" cy="100.2" r="0.9" fill="#26348f"/><circle cx="426.6" cy="100.9" r="0.5" fill="#777"/><ellipse cx="439.9" cy="100.4" rx="1.9" ry="1.7" fill="#fff"/><circle cx="440.2" cy="100.2" r="0.9" fill="#26348f"/><circle cx="439" cy="100.9" r="0.5" fill="#777"/><path d="M401.4 76.6 l6.8 -5.8" fill="none" stroke="#6a6a6a" stroke-width="1.9" stroke-dasharray="0.85 0.8"/><path d="M401.8 76.4 l6.4 -5.4" fill="none" stroke="#fff" stroke-width="0.5" stroke-dasharray="1.3 1.1" opacity="0.8"/><circle cx="402" cy="78.8" r="0.9" fill="#2a3a9a"/><circle cx="403.8" cy="79.1" r="0.6" fill="#444"/><circle cx="401.9" cy="112.6" r="0.9" fill="#2a3a9a"/><circle cx="400.5" cy="114.2" r="0.6" fill="#444"/><path d="M400.7 114.6 l1.6 1.6 l-1 1.2 l2.6 .6 l-1.2 1.4 l3 .8 l-1 1.4 l2.4 .6" fill="none" stroke="#6a6a6a" stroke-width="1.4" stroke-dasharray="0.85 0.8"/><path d="M401.9 119.2 l2.2 1 l2 -.4 l1.6 1" fill="none" stroke="#666" stroke-width="1.1" stroke-dasharray=".8 .7"/><path d="M413.8 76.6 l6.8 -5.8" fill="none" stroke="#6a6a6a" stroke-width="1.9" stroke-dasharray="0.85 0.8"/><path d="M414.2 76.4 l6.4 -5.4" fill="none" stroke="#fff" stroke-width="0.5" stroke-dasharray="1.3 1.1" opacity="0.8"/><circle cx="414.4" cy="78.8" r="0.9" fill="#2a3a9a"/><circle cx="416.2" cy="79.1" r="0.6" fill="#444"/><circle cx="414.3" cy="112.6" r="0.9" fill="#2a3a9a"/><circle cx="412.9" cy="114.2" r="0.6" fill="#444"/><path d="M413.1 114.6 l1.6 1.6 l-1 1.2 l2.6 .6 l-1.2 1.4 l3 .8 l-1 1.4 l2.4 .6" fill="none" stroke="#6a6a6a" stroke-width="1.4" stroke-dasharray="0.85 0.8"/><path d="M414.3 119.2 l2.2 1 l2 -.4 l1.6 1" fill="none" stroke="#666" stroke-width="1.1" stroke-dasharray=".8 .7"/><path d="M426.1 76.6 l6.8 -5.8" fill="none" stroke="#6a6a6a" stroke-width="1.9" stroke-dasharray="0.85 0.8"/><path d="M426.5 76.4 l6.4 -5.4" fill="none" stroke="#fff" stroke-width="0.5" stroke-dasharray="1.3 1.1" opacity="0.8"/><circle cx="426.7" cy="78.8" r="0.9" fill="#2a3a9a"/><circle cx="428.5" cy="79.1" r="0.6" fill="#444"/><circle cx="426.6" cy="112.6" r="0.9" fill="#2a3a9a"/><circle cx="425.2" cy="114.2" r="0.6" fill="#444"/><path d="M425.4 114.6 l1.6 1.6 l-1 1.2 l2.6 .6 l-1.2 1.4 l3 .8 l-1 1.4 l2.4 .6" fill="none" stroke="#6a6a6a" stroke-width="1.4" stroke-dasharray="0.85 0.8"/><path d="M426.6 119.2 l2.2 1 l2 -.4 l1.6 1" fill="none" stroke="#666" stroke-width="1.1" stroke-dasharray=".8 .7"/><path d="M438.5 76.6 l6.8 -5.8" fill="none" stroke="#6a6a6a" stroke-width="1.9" stroke-dasharray="0.85 0.8"/><path d="M438.9 76.4 l6.4 -5.4" fill="none" stroke="#fff" stroke-width="0.5" stroke-dasharray="1.3 1.1" opacity="0.8"/><circle cx="439.1" cy="78.8" r="0.9" fill="#2a3a9a"/><circle cx="440.9" cy="79.1" r="0.6" fill="#444"/><circle cx="439" cy="112.6" r="0.9" fill="#2a3a9a"/><circle cx="437.6" cy="114.2" r="0.6" fill="#444"/><path d="M437.8 114.6 l1.6 1.6 l-1 1.2 l2.6 .6 l-1.2 1.4 l3 .8 l-1 1.4 l2.4 .6" fill="none" stroke="#6a6a6a" stroke-width="1.4" stroke-dasharray="0.85 0.8"/><path d="M439 119.2 l2.2 1 l2 -.4 l1.6 1" fill="none" stroke="#666" stroke-width="1.1" stroke-dasharray=".8 .7"/>
<polygon points="484,51.8 492.5,43 494.6,52.3" fill="#dde3e8"/><polygon points="492.5,43 501.3,49.6 494.6,52.3" fill="#a6b3be"/><polygon points="484,51.8 494.6,52.3 491.4,59.1" fill="#bcc7d0"/><polygon points="494.6,52.3 501.3,49.6 491.4,59.1" fill="#8c9aa6"/><polygon points="495.5,51.8 504,43 506.1,52.3" fill="#dde3e8"/><polygon points="504,43 512.9,49.6 506.1,52.3" fill="#a6b3be"/><polygon points="495.5,51.8 506.1,52.3 502.9,59.1" fill="#bcc7d0"/><polygon points="506.1,52.3 512.9,49.6 502.9,59.1" fill="#8c9aa6"/><polygon points="507.1,51.8 515.5,43 517.6,52.3" fill="#dde3e8"/><polygon points="515.5,43 524.4,49.6 517.6,52.3" fill="#a6b3be"/><polygon points="507.1,51.8 517.6,52.3 514.5,59.1" fill="#bcc7d0"/><polygon points="517.6,52.3 524.4,49.6 514.5,59.1" fill="#8c9aa6"/><polygon points="518.6,51.8 527.1,43 529.2,52.3" fill="#dde3e8"/><polygon points="527.1,43 536,49.6 529.2,52.3" fill="#a6b3be"/><polygon points="518.6,51.8 529.2,52.3 526,59.1" fill="#bcc7d0"/><polygon points="529.2,52.3 536,49.6 526,59.1" fill="#8c9aa6"/><polygon points="530.2,51.8 538.6,43 540.7,52.3" fill="#dde3e8"/><polygon points="538.6,43 547.5,49.6 540.7,52.3" fill="#a6b3be"/><polygon points="530.2,51.8 540.7,52.3 537.5,59.1" fill="#bcc7d0"/><polygon points="540.7,52.3 547.5,49.6 537.5,59.1" fill="#8c9aa6"/><polygon points="484,62.6 492.5,53.7 494.6,63.1" fill="#58c4d7"/><polygon points="492.5,53.7 501.3,60.4 494.6,63.1" fill="#2c9fbb"/><polygon points="484,62.6 494.6,63.1 491.4,69.8" fill="#38afc8"/><polygon points="494.6,63.1 501.3,60.4 491.4,69.8" fill="#157d99"/><polygon points="495.5,62.6 504,53.7 506.1,63.1" fill="#58c4d7"/><polygon points="504,53.7 512.9,60.4 506.1,63.1" fill="#2c9fbb"/><polygon points="495.5,62.6 506.1,63.1 502.9,69.8" fill="#38afc8"/><polygon points="506.1,63.1 512.9,60.4 502.9,69.8" fill="#157d99"/><polygon points="507.1,62.6 515.5,53.7 517.6,63.1" fill="#58c4d7"/><polygon points="515.5,53.7 524.4,60.4 517.6,63.1" fill="#2c9fbb"/><polygon points="507.1,62.6 517.6,63.1 514.5,69.8" fill="#38afc8"/><polygon points="517.6,63.1 524.4,60.4 514.5,69.8" fill="#157d99"/><polygon points="518.6,62.6 527.1,53.7 529.2,63.1" fill="#58c4d7"/><polygon points="527.1,53.7 536,60.4 529.2,63.1" fill="#2c9fbb"/><polygon points="518.6,62.6 529.2,63.1 526,69.8" fill="#38afc8"/><polygon points="529.2,63.1 536,60.4 526,69.8" fill="#157d99"/><polygon points="530.2,62.6 538.6,53.7 540.7,63.1" fill="#58c4d7"/><polygon points="538.6,53.7 547.5,60.4 540.7,63.1" fill="#2c9fbb"/><polygon points="530.2,62.6 540.7,63.1 537.5,69.8" fill="#38afc8"/><polygon points="540.7,63.1 547.5,60.4 537.5,69.8" fill="#157d99"/><polygon points="484,73.3 492.5,64.5 494.6,73.8" fill="#58c4d7"/><polygon points="492.5,64.5 501.3,71.1 494.6,73.8" fill="#2c9fbb"/><polygon points="484,73.3 494.6,73.8 491.4,80.5" fill="#38afc8"/><polygon points="494.6,73.8 501.3,71.1 491.4,80.5" fill="#157d99"/><polygon points="495.5,73.3 504,64.5 506.1,73.8" fill="#58c4d7"/><polygon points="504,64.5 512.9,71.1 506.1,73.8" fill="#2c9fbb"/><polygon points="495.5,73.3 506.1,73.8 502.9,80.5" fill="#38afc8"/><polygon points="506.1,73.8 512.9,71.1 502.9,80.5" fill="#157d99"/><polygon points="507.1,73.3 515.5,64.5 517.6,73.8" fill="#58c4d7"/><polygon points="515.5,64.5 524.4,71.1 517.6,73.8" fill="#2c9fbb"/><polygon points="507.1,73.3 517.6,73.8 514.5,80.5" fill="#38afc8"/><polygon points="517.6,73.8 524.4,71.1 514.5,80.5" fill="#157d99"/><polygon points="518.6,73.3 527.1,64.5 529.2,73.8" fill="#58c4d7"/><polygon points="527.1,64.5 536,71.1 529.2,73.8" fill="#2c9fbb"/><polygon points="518.6,73.3 529.2,73.8 526,80.5" fill="#38afc8"/><polygon points="529.2,73.8 536,71.1 526,80.5" fill="#157d99"/><polygon points="530.2,73.3 538.6,64.5 540.7,73.8" fill="#58c4d7"/><polygon points="538.6,64.5 547.5,71.1 540.7,73.8" fill="#2c9fbb"/><polygon points="530.2,73.3 540.7,73.8 537.5,80.5" fill="#38afc8"/><polygon points="540.7,73.8 547.5,71.1 537.5,80.5" fill="#157d99"/><polygon points="484,84 492.5,75.2 494.6,84.5" fill="#58c4d7"/><polygon points="492.5,75.2 501.3,81.8 494.6,84.5" fill="#2c9fbb"/><polygon points="484,84 494.6,84.5 491.4,91.3" fill="#38afc8"/><polygon points="494.6,84.5 501.3,81.8 491.4,91.3" fill="#157d99"/><polygon points="495.5,84 504,75.2 506.1,84.5" fill="#58c4d7"/><polygon points="504,75.2 512.9,81.8 506.1,84.5" fill="#2c9fbb"/><polygon points="495.5,84 506.1,84.5 502.9,91.3" fill="#38afc8"/><polygon points="506.1,84.5 512.9,81.8 502.9,91.3" fill="#157d99"/><polygon points="507.1,84 515.5,75.2 517.6,84.5" fill="#58c4d7"/><polygon points="515.5,75.2 524.4,81.8 517.6,84.5" fill="#2c9fbb"/><polygon points="507.1,84 517.6,84.5 514.5,91.3" fill="#38afc8"/><polygon points="517.6,84.5 524.4,81.8 514.5,91.3" fill="#157d99"/><polygon points="518.6,84 527.1,75.2 529.2,84.5" fill="#58c4d7"/><polygon points="527.1,75.2 536,81.8 529.2,84.5" fill="#2c9fbb"/><polygon points="518.6,84 529.2,84.5 526,91.3" fill="#38afc8"/><polygon points="529.2,84.5 536,81.8 526,91.3" fill="#157d99"/><polygon points="530.2,84 538.6,75.2 540.7,84.5" fill="#58c4d7"/><polygon points="538.6,75.2 547.5,81.8 540.7,84.5" fill="#2c9fbb"/><polygon points="530.2,84 540.7,84.5 537.5,91.3" fill="#38afc8"/><polygon points="540.7,84.5 547.5,81.8 537.5,91.3" fill="#157d99"/><polygon points="484,94.8 492.5,85.9 494.6,95.3" fill="#dde3e8"/><polygon points="492.5,85.9 501.3,92.6 494.6,95.3" fill="#a6b3be"/><polygon points="484,94.8 494.6,95.3 491.4,102" fill="#bcc7d0"/><polygon points="494.6,95.3 501.3,92.6 491.4,102" fill="#8c9aa6"/><polygon points="495.5,94.8 504,85.9 506.1,95.3" fill="#dde3e8"/><polygon points="504,85.9 512.9,92.6 506.1,95.3" fill="#a6b3be"/><polygon points="495.5,94.8 506.1,95.3 502.9,102" fill="#bcc7d0"/><polygon points="506.1,95.3 512.9,92.6 502.9,102" fill="#8c9aa6"/><polygon points="507.1,94.8 515.5,85.9 517.6,95.3" fill="#dde3e8"/><polygon points="515.5,85.9 524.4,92.6 517.6,95.3" fill="#a6b3be"/><polygon points="507.1,94.8 517.6,95.3 514.5,102" fill="#bcc7d0"/><polygon points="517.6,95.3 524.4,92.6 514.5,102" fill="#8c9aa6"/><polygon points="518.6,94.8 527.1,85.9 529.2,95.3" fill="#dde3e8"/><polygon points="527.1,85.9 536,92.6 529.2,95.3" fill="#a6b3be"/><polygon points="518.6,94.8 529.2,95.3 526,102" fill="#bcc7d0"/><polygon points="529.2,95.3 536,92.6 526,102" fill="#8c9aa6"/><polygon points="530.2,94.8 538.6,85.9 540.7,95.3" fill="#dde3e8"/><polygon points="538.6,85.9 547.5,92.6 540.7,95.3" fill="#a6b3be"/><polygon points="530.2,94.8 540.7,95.3 537.5,102" fill="#bcc7d0"/><polygon points="540.7,95.3 547.5,92.6 537.5,102" fill="#8c9aa6"/><ellipse cx="498.4" cy="56.4" rx="1.9" ry="1.7" fill="#fff"/><circle cx="498.7" cy="56.2" r="0.9" fill="#26348f"/><circle cx="497.5" cy="56.9" r="0.5" fill="#777"/><ellipse cx="510" cy="56.4" rx="1.9" ry="1.7" fill="#fff"/><circle cx="510.3" cy="56.2" r="0.9" fill="#26348f"/><circle cx="509.1" cy="56.9" r="0.5" fill="#777"/><ellipse cx="521.5" cy="56.4" rx="1.9" ry="1.7" fill="#fff"/><circle cx="521.8" cy="56.2" r="0.9" fill="#26348f"/><circle cx="520.6" cy="56.9" r="0.5" fill="#777"/><ellipse cx="533.1" cy="56.4" rx="1.9" ry="1.7" fill="#fff"/><circle cx="533.4" cy="56.2" r="0.9" fill="#26348f"/><circle cx="532.2" cy="56.9" r="0.5" fill="#777"/><ellipse cx="498.4" cy="67.1" rx="1.9" ry="1.7" fill="#fff"/><circle cx="498.7" cy="66.9" r="0.9" fill="#26348f"/><circle cx="497.5" cy="67.6" r="0.5" fill="#777"/><ellipse cx="510" cy="67.1" rx="1.9" ry="1.7" fill="#fff"/><circle cx="510.3" cy="66.9" r="0.9" fill="#26348f"/><circle cx="509.1" cy="67.6" r="0.5" fill="#777"/><ellipse cx="521.5" cy="67.1" rx="1.9" ry="1.7" fill="#fff"/><circle cx="521.8" cy="66.9" r="0.9" fill="#26348f"/><circle cx="520.6" cy="67.6" r="0.5" fill="#777"/><ellipse cx="533.1" cy="67.1" rx="1.9" ry="1.7" fill="#fff"/><circle cx="533.4" cy="66.9" r="0.9" fill="#26348f"/><circle cx="532.2" cy="67.6" r="0.5" fill="#777"/><ellipse cx="498.4" cy="77.9" rx="1.9" ry="1.7" fill="#fff"/><circle cx="498.7" cy="77.7" r="0.9" fill="#26348f"/><circle cx="497.5" cy="78.4" r="0.5" fill="#777"/><ellipse cx="510" cy="77.9" rx="1.9" ry="1.7" fill="#fff"/><circle cx="510.3" cy="77.7" r="0.9" fill="#26348f"/><circle cx="509.1" cy="78.4" r="0.5" fill="#777"/><ellipse cx="521.5" cy="77.9" rx="1.9" ry="1.7" fill="#fff"/><circle cx="521.8" cy="77.7" r="0.9" fill="#26348f"/><circle cx="520.6" cy="78.4" r="0.5" fill="#777"/><ellipse cx="533.1" cy="77.9" rx="1.9" ry="1.7" fill="#fff"/><circle cx="533.4" cy="77.7" r="0.9" fill="#26348f"/><circle cx="532.2" cy="78.4" r="0.5" fill="#777"/><ellipse cx="498.4" cy="88.6" rx="1.9" ry="1.7" fill="#fff"/><circle cx="498.7" cy="88.4" r="0.9" fill="#26348f"/><circle cx="497.5" cy="89.1" r="0.5" fill="#777"/><ellipse cx="510" cy="88.6" rx="1.9" ry="1.7" fill="#fff"/><circle cx="510.3" cy="88.4" r="0.9" fill="#26348f"/><circle cx="509.1" cy="89.1" r="0.5" fill="#777"/><ellipse cx="521.5" cy="88.6" rx="1.9" ry="1.7" fill="#fff"/><circle cx="521.8" cy="88.4" r="0.9" fill="#26348f"/><circle cx="520.6" cy="89.1" r="0.5" fill="#777"/><ellipse cx="533.1" cy="88.6" rx="1.9" ry="1.7" fill="#fff"/><circle cx="533.4" cy="88.4" r="0.9" fill="#26348f"/><circle cx="532.2" cy="89.1" r="0.5" fill="#777"/>
</g>
<text x="272.6" y="142.5" class="san it" font-size="10.3" fill="#2aa9e0" stroke="#2aa9e0" stroke-width="0.2">n<tspan dx="1">=</tspan><tspan dx="1">1</tspan></text>
<text x="342" y="137.5" class="san it" font-size="10.3" fill="#2aa9e0" stroke="#2aa9e0" stroke-width="0.2">n<tspan dx="1">=</tspan><tspan dx="1">2</tspan></text>
<text x="412" y="133" class="san it" font-size="10.3" fill="#2aa9e0" stroke="#2aa9e0" stroke-width="0.2">n<tspan dx="1">=</tspan><tspan dx="1">3</tspan></text>
<text x="504.3" y="112.4" class="san it" font-size="10.3" fill="#2aa9e0" stroke="#2aa9e0" stroke-width="0.2">n<tspan dx="1">=</tspan><tspan dx="0.8" font-size="13.2" dy="0.8">∞</tspan></text>
<text x="466.5" y="96.8" class="san it" font-size="10.3" fill="#2aa9e0">n</text>
<path d="M454.5 65.3 C459.5 66 458.5 74 458.8 84 C459 90 460 93 462.6 93.6 C460 94.2 459 97 458.8 103 C458.5 113 459.5 120.6 454.5 121.5" fill="none" stroke="#52bde9" stroke-width="0.9"/>
<line x1="254" y1="157.8" x2="333.4" y2="157.8" stroke="#8a8a8a" stroke-width="1.2"/>
<text x="341.4" y="159.8" class="san" font-size="10.5" fill="#2aa9e0" textLength="102.6" lengthAdjust="spacingAndGlyphs">(PEA)<tspan class="subn" dy="2">2</tspan><tspan dy="-2">(MA)</tspan><tspan class="sub" dy="2">n-1</tspan><tspan dy="-2">Pb</tspan><tspan class="sub" dy="2">n</tspan><tspan dy="-2">I</tspan><tspan class="sub" dy="2">3n+1</tspan></text>
<line x1="451" y1="157.9" x2="540" y2="157.9" stroke="#333" stroke-width="0.9"/>
<polygon points="544.6,157.9 538.2,155.4 538.2,160.4" fill="#111"/>
</g>
<g id="panel-c">
<text x="6.6" y="180.8" class="lab">(c)</text>
<text x="76.3" y="179.8" class="san" font-size="9.2" fill="#333" textLength="71.5" lengthAdjust="spacingAndGlyphs">BA<tspan class="subc" dy="2.4">2</tspan><tspan dy="-2.4">MA</tspan><tspan class="subc" dy="2.4">n-1</tspan><tspan dy="-2.4">Pb</tspan><tspan class="subc" dy="2.4">n</tspan><tspan dy="-2.4">I</tspan><tspan class="subc" dy="2.4">3n+1</tspan></text>
<rect x="45.4" y="195.6" width="30.6" height="35.8" fill="#6e3a1e"/>
<rect x="45.4" y="279.6" width="30.6" height="38.9" fill="#6e3a1e"/>
<rect x="78" y="195.6" width="19" height="17.4" fill="url(#g1t)"/>
<rect x="78" y="285.2" width="19" height="33.3" fill="url(#g1b)"/>
<rect x="99" y="195.6" width="19.5" height="22.2" fill="url(#g2t)"/>
<rect x="99" y="283.9" width="19.5" height="34.6" fill="url(#g2b)"/>
<rect x="120.3" y="195.6" width="18.1" height="21.7" fill="url(#g3t)"/>
<rect x="120.3" y="278.1" width="18.1" height="40.4" fill="url(#g3b)"/>
<rect x="141.2" y="195.6" width="19.1" height="22.1" fill="url(#g4t)"/>
<rect x="141.2" y="275.6" width="19.1" height="42.9" fill="url(#g4b)"/>
<line x1="45.4" y1="280" x2="160.5" y2="280" stroke="#9dc852" stroke-width="1.1" opacity="0.9"/>
<path d="M42 182.5V318.7H160.5V186H42" fill="none" stroke="#4a4a4a" stroke-width="1"/>
<polygon points="42,179.6 40.5,182.6 43.5,182.6" fill="#222"/>
<line x1="37.2" y1="207.8" x2="42" y2="207.8" stroke="#4a4a4a" stroke-width="1"/>
<text x="36.3" y="211.2" class="san" font-size="9.6" text-anchor="end" fill="#3c3c3c">-3.0</text>
<line x1="37.2" y1="222.9" x2="42" y2="222.9" stroke="#4a4a4a" stroke-width="1"/>
<text x="36.3" y="226.3" class="san" font-size="9.6" text-anchor="end" fill="#3c3c3c">-3.5</text>
<line x1="37.2" y1="238.1" x2="42" y2="238.1" stroke="#4a4a4a" stroke-width="1"/>
<text x="36.3" y="241.5" class="san" font-size="9.6" text-anchor="end" fill="#3c3c3c">-4.0</text>
<line x1="37.2" y1="253.2" x2="42" y2="253.2" stroke="#4a4a4a" stroke-width="1"/>
<text x="36.3" y="256.6" class="san" font-size="9.6" text-anchor="end" fill="#3c3c3c">-4.5</text>
<line x1="37.2" y1="268.3" x2="42" y2="268.3" stroke="#4a4a4a" stroke-width="1"/>
<text x="36.3" y="271.7" class="san" font-size="9.6" text-anchor="end" fill="#3c3c3c">-5.0</text>
<line x1="37.2" y1="283.5" x2="42" y2="283.5" stroke="#4a4a4a" stroke-width="1"/>
<text x="36.3" y="286.9" class="san" font-size="9.6" text-anchor="end" fill="#3c3c3c">-5.5</text>
<line x1="37.2" y1="298.6" x2="42" y2="298.6" stroke="#4a4a4a" stroke-width="1"/>
<text x="36.3" y="302" class="san" font-size="9.6" text-anchor="end" fill="#3c3c3c">-6.0</text>
<line x1="37.2" y1="313.7" x2="42" y2="313.7" stroke="#4a4a4a" stroke-width="1"/>
<text x="36.3" y="317.1" class="san" font-size="9.6" text-anchor="end" fill="#3c3c3c">-6.5</text>
<text transform="translate(11.7,251) rotate(-90)" class="san" font-size="10.3" text-anchor="middle" fill="#333">Energy (eV)</text>
<text x="62.2" y="193.7" class="san" font-size="8.4" text-anchor="middle" fill="#333">3D</text>
<text x="87.5" y="193.7" class="san" font-size="8.4" text-anchor="middle" fill="#333">n=1</text>
<text x="108.6" y="193.7" class="san" font-size="8.4" text-anchor="middle" fill="#333">n=2</text>
<text x="129.2" y="193.7" class="san" font-size="8.4" text-anchor="middle" fill="#333">n=3</text>
<text x="150.9" y="193.7" class="san" font-size="8.4" text-anchor="middle" fill="#333">n=4</text>
<text x="60.2" y="215.4" class="san" font-size="7.8" text-anchor="middle" fill="#fff" stroke="#fff" stroke-width="0.15" opacity="0.95">-3.79</text>
<text x="87.6" y="210.4" class="san" font-size="7.8" text-anchor="middle" fill="#fff" stroke="#fff" stroke-width="0.15" opacity="0.95">-3.22</text>
<text x="108.7" y="215.2" class="san" font-size="7.8" text-anchor="middle" fill="#fff" stroke="#fff" stroke-width="0.15" opacity="0.95">-3.34</text>
<text x="129.4" y="215" class="san" font-size="7.8" text-anchor="middle" fill="#fff" stroke="#fff" stroke-width="0.15" opacity="0.95">-3.32</text>
<text x="150.8" y="215" class="san" font-size="7.8" text-anchor="middle" fill="#fff" stroke="#fff" stroke-width="0.15" opacity="0.95">-3.35</text>
<text x="60.2" y="298.2" class="san" font-size="7.8" text-anchor="middle" fill="#fff" stroke="#fff" stroke-width="0.15" opacity="0.95">-5.39</text>
<text x="87.4" y="298.2" class="san" font-size="7.8" text-anchor="middle" fill="#fff" stroke="#fff" stroke-width="0.15" opacity="0.95">-5.6</text>
<text x="108.7" y="298.2" class="san" font-size="7.8" text-anchor="middle" fill="#fff" stroke="#fff" stroke-width="0.15" opacity="0.95">-5.54</text>
<text x="129.4" y="298.2" class="san" font-size="7.8" text-anchor="middle" fill="#fff" stroke="#fff" stroke-width="0.15" opacity="0.95">-5.36</text>
<text x="150.8" y="298.2" class="san" font-size="7.8" text-anchor="middle" fill="#fff" stroke="#fff" stroke-width="0.15" opacity="0.95">-5.25</text>
<line x1="60.9" y1="234.3" x2="60.9" y2="235" stroke="#222" stroke-width="0.8"/>
<line x1="60.9" y1="272.2" x2="60.9" y2="277.3" stroke="#222" stroke-width="0.8"/>
<polygon points="60.9,232.3 59.2,235.9 62.6,235.9" fill="#111"/>
<polygon points="60.9,279.3 59.2,275.7 62.6,275.7" fill="#111"/>
<text transform="translate(65.4,253.6) rotate(-90)" class="san" font-size="9.5" text-anchor="middle" fill="#222">1.60 eV</text>
<line x1="87.1" y1="216.8" x2="87.1" y2="233.3" stroke="#222" stroke-width="0.8"/>
<line x1="87.1" y1="271" x2="87.1" y2="282.4" stroke="#222" stroke-width="0.8"/>
<polygon points="87.1,214.8 85.4,218.4 88.8,218.4" fill="#111"/>
<polygon points="87.1,284.4 85.4,280.8 88.8,280.8" fill="#111"/>
<text transform="translate(90.8,252.2) rotate(-90)" class="san" font-size="9.5" text-anchor="middle" fill="#222">2.38 eV</text>
<line x1="108.9" y1="221.6" x2="108.9" y2="233.3" stroke="#222" stroke-width="0.8"/>
<line x1="108.9" y1="271" x2="108.9" y2="281.2" stroke="#222" stroke-width="0.8"/>
<polygon points="108.9,219.6 107.2,223.2 110.6,223.2" fill="#111"/>
<polygon points="108.9,283.2 107.2,279.6 110.6,279.6" fill="#111"/>
<text transform="translate(112,252.2) rotate(-90)" class="san" font-size="9.5" text-anchor="middle" fill="#222">2.20 eV</text>
<line x1="129.1" y1="221" x2="129.1" y2="228" stroke="#222" stroke-width="0.8"/>
<line x1="129.1" y1="264.6" x2="129.1" y2="275.2" stroke="#222" stroke-width="0.8"/>
<polygon points="129.1,219 127.4,222.6 130.8,222.6" fill="#111"/>
<polygon points="129.1,277.2 127.4,273.6 130.8,273.6" fill="#111"/>
<text transform="translate(132.3,246.3) rotate(-90)" class="san" font-size="9.5" text-anchor="middle" fill="#222">2.04 eV</text>
<line x1="151.3" y1="221.2" x2="151.3" y2="224.8" stroke="#222" stroke-width="0.8"/>
<line x1="151.3" y1="262" x2="151.3" y2="272.8" stroke="#222" stroke-width="0.8"/>
<polygon points="151.3,219.2 149.6,222.8 153,222.8" fill="#111"/>
<polygon points="151.3,274.8 149.6,271.2 153,271.2" fill="#111"/>
<text transform="translate(154.5,243.4) rotate(-90)" class="san" font-size="9.5" text-anchor="middle" fill="#222">1.90 eV</text>
</g>
<g id="panel-d">
<text x="173.9" y="180.8" class="lab">(d)</text>
<rect x="224.4" y="171.5" width="211.1" height="134.7" fill="none" stroke="#a8a8a8" stroke-width="0.9"/>
<rect x="440.2" y="171.5" width="71.6" height="135" fill="none" stroke="#a8a8a8" stroke-width="0.9"/>
<line x1="224.4" y1="300.5" x2="226" y2="300.5" stroke="#a8a8a8" stroke-width="0.4"/>
<line x1="224.4" y1="297.1" x2="226" y2="297.1" stroke="#a8a8a8" stroke-width="0.4"/>
<line x1="224.4" y1="294.8" x2="226" y2="294.8" stroke="#a8a8a8" stroke-width="0.4"/>
<line x1="224.4" y1="292.9" x2="226" y2="292.9" stroke="#a8a8a8" stroke-width="0.4"/>
<line x1="224.4" y1="291.4" x2="226" y2="291.4" stroke="#a8a8a8" stroke-width="0.4"/>
<line x1="224.4" y1="290.1" x2="226" y2="290.1" stroke="#a8a8a8" stroke-width="0.4"/>
<line x1="224.4" y1="289" x2="226" y2="289" stroke="#a8a8a8" stroke-width="0.4"/>
<line x1="224.4" y1="288.1" x2="226" y2="288.1" stroke="#a8a8a8" stroke-width="0.4"/>
<line x1="224.4" y1="281.5" x2="226" y2="281.5" stroke="#a8a8a8" stroke-width="0.4"/>
<line x1="224.4" y1="278.1" x2="226" y2="278.1" stroke="#a8a8a8" stroke-width="0.4"/>
<line x1="224.4" y1="275.8" x2="226" y2="275.8" stroke="#a8a8a8" stroke-width="0.4"/>
<line x1="224.4" y1="273.9" x2="226" y2="273.9" stroke="#a8a8a8" stroke-width="0.4"/>
<line x1="224.4" y1="272.4" x2="226" y2="272.4" stroke="#a8a8a8" stroke-width="0.4"/>
<line x1="224.4" y1="271.1" x2="226" y2="271.1" stroke="#a8a8a8" stroke-width="0.4"/>
<line x1="224.4" y1="270" x2="226" y2="270" stroke="#a8a8a8" stroke-width="0.4"/>
<line x1="224.4" y1="269.1" x2="226" y2="269.1" stroke="#a8a8a8" stroke-width="0.4"/>
<line x1="224.4" y1="262.5" x2="226" y2="262.5" stroke="#a8a8a8" stroke-width="0.4"/>
<line x1="224.4" y1="259.1" x2="226" y2="259.1" stroke="#a8a8a8" stroke-width="0.4"/>
<line x1="224.4" y1="256.8" x2="226" y2="256.8" stroke="#a8a8a8" stroke-width="0.4"/>
<line x1="224.4" y1="254.9" x2="226" y2="254.9" stroke="#a8a8a8" stroke-width="0.4"/>
<line x1="224.4" y1="253.4" x2="226" y2="253.4" stroke="#a8a8a8" stroke-width="0.4"/>
<line x1="224.4" y1="252.1" x2="226" y2="252.1" stroke="#a8a8a8" stroke-width="0.4"/>
<line x1="224.4" y1="251" x2="226" y2="251" stroke="#a8a8a8" stroke-width="0.4"/>
<line x1="224.4" y1="250.1" x2="226" y2="250.1" stroke="#a8a8a8" stroke-width="0.4"/>
<line x1="224.4" y1="243.5" x2="226" y2="243.5" stroke="#a8a8a8" stroke-width="0.4"/>
<line x1="224.4" y1="240.1" x2="226" y2="240.1" stroke="#a8a8a8" stroke-width="0.4"/>
<line x1="224.4" y1="237.8" x2="226" y2="237.8" stroke="#a8a8a8" stroke-width="0.4"/>
<line x1="224.4" y1="235.9" x2="226" y2="235.9" stroke="#a8a8a8" stroke-width="0.4"/>
<line x1="224.4" y1="234.4" x2="226" y2="234.4" stroke="#a8a8a8" stroke-width="0.4"/>
<line x1="224.4" y1="233.1" x2="226" y2="233.1" stroke="#a8a8a8" stroke-width="0.4"/>
<line x1="224.4" y1="232" x2="226" y2="232" stroke="#a8a8a8" stroke-width="0.4"/>
<line x1="224.4" y1="231.1" x2="226" y2="231.1" stroke="#a8a8a8" stroke-width="0.4"/>
<line x1="224.4" y1="224.5" x2="226" y2="224.5" stroke="#a8a8a8" stroke-width="0.4"/>
<line x1="224.4" y1="221.1" x2="226" y2="221.1" stroke="#a8a8a8" stroke-width="0.4"/>
<line x1="224.4" y1="218.8" x2="226" y2="218.8" stroke="#a8a8a8" stroke-width="0.4"/>
<line x1="224.4" y1="216.9" x2="226" y2="216.9" stroke="#a8a8a8" stroke-width="0.4"/>
<line x1="224.4" y1="215.4" x2="226" y2="215.4" stroke="#a8a8a8" stroke-width="0.4"/>
<line x1="224.4" y1="214.1" x2="226" y2="214.1" stroke="#a8a8a8" stroke-width="0.4"/>
<line x1="224.4" y1="213" x2="226" y2="213" stroke="#a8a8a8" stroke-width="0.4"/>
<line x1="224.4" y1="212.1" x2="226" y2="212.1" stroke="#a8a8a8" stroke-width="0.4"/>
<line x1="224.4" y1="205.5" x2="226" y2="205.5" stroke="#a8a8a8" stroke-width="0.4"/>
<line x1="224.4" y1="202.1" x2="226" y2="202.1" stroke="#a8a8a8" stroke-width="0.4"/>
<line x1="224.4" y1="199.8" x2="226" y2="199.8" stroke="#a8a8a8" stroke-width="0.4"/>
<line x1="224.4" y1="197.9" x2="226" y2="197.9" stroke="#a8a8a8" stroke-width="0.4"/>
<line x1="224.4" y1="196.4" x2="226" y2="196.4" stroke="#a8a8a8" stroke-width="0.4"/>
<line x1="224.4" y1="195.1" x2="226" y2="195.1" stroke="#a8a8a8" stroke-width="0.4"/>
<line x1="224.4" y1="194" x2="226" y2="194" stroke="#a8a8a8" stroke-width="0.4"/>
<line x1="224.4" y1="193.1" x2="226" y2="193.1" stroke="#a8a8a8" stroke-width="0.4"/>
<line x1="224.4" y1="186.5" x2="226" y2="186.5" stroke="#a8a8a8" stroke-width="0.4"/>
<line x1="224.4" y1="183.1" x2="226" y2="183.1" stroke="#a8a8a8" stroke-width="0.4"/>
<line x1="224.4" y1="180.8" x2="226" y2="180.8" stroke="#a8a8a8" stroke-width="0.4"/>
<line x1="224.4" y1="178.9" x2="226" y2="178.9" stroke="#a8a8a8" stroke-width="0.4"/>
<line x1="224.4" y1="177.4" x2="226" y2="177.4" stroke="#a8a8a8" stroke-width="0.4"/>
<line x1="224.4" y1="176.1" x2="226" y2="176.1" stroke="#a8a8a8" stroke-width="0.4"/>
<line x1="224.4" y1="175" x2="226" y2="175" stroke="#a8a8a8" stroke-width="0.4"/>
<line x1="224.4" y1="174.1" x2="226" y2="174.1" stroke="#a8a8a8" stroke-width="0.4"/>
<line x1="221.4" y1="306.2" x2="224.4" y2="306.2" stroke="#a8a8a8" stroke-width="0.8"/>
<text x="221" y="309.2" class="san" font-size="8.4" text-anchor="end" fill="#555">0</text>
<line x1="221.4" y1="287.2" x2="224.4" y2="287.2" stroke="#a8a8a8" stroke-width="0.8"/>
<text x="221.4" y="290.3" class="san" font-size="8.3" text-anchor="end" fill="#555">10<tspan font-size="5.6" dy="-3.2">1</tspan></text>
<line x1="221.4" y1="268.2" x2="224.4" y2="268.2" stroke="#a8a8a8" stroke-width="0.8"/>
<text x="221.4" y="271.3" class="san" font-size="8.3" text-anchor="end" fill="#555">10<tspan font-size="5.6" dy="-3.2">2</tspan></text>
<line x1="221.4" y1="249.2" x2="224.4" y2="249.2" stroke="#a8a8a8" stroke-width="0.8"/>
<text x="221.4" y="252.3" class="san" font-size="8.3" text-anchor="end" fill="#555">10<tspan font-size="5.6" dy="-3.2">3</tspan></text>
<line x1="221.4" y1="230.2" x2="224.4" y2="230.2" stroke="#a8a8a8" stroke-width="0.8"/>
<text x="221.4" y="233.3" class="san" font-size="8.3" text-anchor="end" fill="#555">10<tspan font-size="5.6" dy="-3.2">4</tspan></text>
<line x1="221.4" y1="211.2" x2="224.4" y2="211.2" stroke="#a8a8a8" stroke-width="0.8"/>
<text x="221.4" y="214.3" class="san" font-size="8.3" text-anchor="end" fill="#555">10<tspan font-size="5.6" dy="-3.2">5</tspan></text>
<line x1="221.4" y1="192.2" x2="224.4" y2="192.2" stroke="#a8a8a8" stroke-width="0.8"/>
<text x="221.4" y="195.3" class="san" font-size="8.3" text-anchor="end" fill="#555">10<tspan font-size="5.6" dy="-3.2">6</tspan></text>
<line x1="221.4" y1="173.2" x2="224.4" y2="173.2" stroke="#a8a8a8" stroke-width="0.8"/>
<text x="221.4" y="176.3" class="san" font-size="8.3" text-anchor="end" fill="#555">10<tspan font-size="5.6" dy="-3.2">7</tspan></text>
<line x1="224.4" y1="306.2" x2="224.4" y2="309.2" stroke="#a8a8a8" stroke-width="0.8"/>
<text x="224.4" y="317.4" class="san" font-size="8.5" text-anchor="middle" fill="#555">200</text>
<line x1="259.6" y1="306.2" x2="259.6" y2="309.2" stroke="#a8a8a8" stroke-width="0.8"/>
<text x="259.6" y="317.4" class="san" font-size="8.5" text-anchor="middle" fill="#555">400</text>
<line x1="294.7" y1="306.2" x2="294.7" y2="309.2" stroke="#a8a8a8" stroke-width="0.8"/>
<text x="294.7" y="317.4" class="san" font-size="8.5" text-anchor="middle" fill="#555">600</text>
<line x1="329.9" y1="306.2" x2="329.9" y2="309.2" stroke="#a8a8a8" stroke-width="0.8"/>
<text x="329.9" y="317.4" class="san" font-size="8.5" text-anchor="middle" fill="#555">800</text>
<line x1="365" y1="306.2" x2="365" y2="309.2" stroke="#a8a8a8" stroke-width="0.8"/>
<text x="365" y="317.4" class="san" font-size="8.5" text-anchor="middle" fill="#555">1,000</text>
<line x1="400.1" y1="306.2" x2="400.1" y2="309.2" stroke="#a8a8a8" stroke-width="0.8"/>
<text x="400.1" y="317.4" class="san" font-size="8.5" text-anchor="middle" fill="#555">1,200</text>
<line x1="435.3" y1="306.2" x2="435.3" y2="309.2" stroke="#a8a8a8" stroke-width="0.8"/>
<text x="435.3" y="317.4" class="san" font-size="8.5" text-anchor="middle" fill="#555">1,400</text>
<text x="300" y="327.5" class="san" font-size="8.6" fill="#555" textLength="60.2" lengthAdjust="spacingAndGlyphs">Wavelength (nm)</text>
<text transform="translate(202.6,289.2) rotate(-90)" class="san" font-size="8.8" fill="#555" textLength="95.6" lengthAdjust="spacingAndGlyphs">Absorption coefficient (cm<tspan font-size="5.4" dy="-2.6">−1</tspan><tspan dy="2.6">)</tspan></text>
<g fill="none" stroke-linecap="round" stroke-linejoin="round">
<path d="M224.6 187.3C225.3 187.2 227.8 186.9 229 186.6C230.2 186.3 230.9 186.1 232 185.6C233.1 185.1 234.5 184.2 235.5 183.8C236.5 183.4 237.2 183.1 238 183.2C238.8 183.3 239.7 183.9 240.5 184.5C241.3 185.1 241.5 185.9 242.9 186.8C244.3 187.7 247.3 189.1 248.9 189.7C250.5 190.3 251.6 190 252.6 190.6C253.6 191.2 254.1 191.8 254.7 193.4C255.3 195 255.8 198.1 256.3 199.9C256.9 201.8 257.2 202.5 258 204.5C258.8 206.5 260 209.8 261.2 212C262.4 214.2 263.6 215.8 265 217.5C266.4 219.2 267.3 220.3 269.6 222.2C271.9 224.1 275.3 226.9 278.7 229C282.1 231.1 285.6 232.8 290 234.6C294.4 236.4 300 238.1 305 239.9C310 241.7 315.8 243.6 320.1 245.2C324.4 246.8 327.7 248.1 330.7 249.7C333.7 251.2 334.8 252.7 338 254.5C341.2 256.3 345.4 257.2 350.2 260.3C354.9 263.4 361.9 268 366.5 272.8C371.1 277.6 374 283.5 377.8 289C381.6 294.5 387.2 302.8 389.1 305.6" stroke="#8db33c" stroke-width="1.45"/>
<path d="M224.6 187.3C225.3 187.2 227.6 186.8 229 186.4C230.4 186 232 184.8 233.2 184.9C234.4 185 235 186.1 236 187C237 187.9 237.9 189.5 239.2 190.5C240.5 191.5 242.2 192.5 244 192.9C245.8 193.3 248 193.2 250 193.2C252 193.2 254.5 192.8 256.1 192.9C257.7 193 258.3 192.8 259.7 193.6C261.1 194.4 263.3 196.2 264.5 197.7C265.7 199.2 265.1 201 266.9 202.5C268.7 204 271.9 205.1 275.3 206.8C278.7 208.6 283 211 287.4 213C291.8 215 297.6 217.2 301.8 218.6C306 219.9 309.8 220.3 312.6 221.1C315.4 221.9 316.4 222.7 318.6 223.3C320.8 224 324 224.2 326 225C328 225.8 329.3 226.8 330.7 227.9C332.1 229 333.5 230.2 334.4 231.6C335.3 232.9 335.7 234.4 336.2 236C336.7 237.6 337 238.8 337.6 241C338.2 243.2 339.2 245.5 340.1 249C341 252.5 341.9 257.8 343 262C344.1 266.2 345.1 269.3 346.4 274C347.7 278.7 349.3 284.7 351 290C352.7 295.3 355.5 303 356.4 305.6" stroke="#bdb546" stroke-width="1.45"/>
<path d="M224.6 187.3C225.5 187.2 228.4 187.2 230 187C231.6 186.8 233.3 186.1 234.4 186.4C235.5 186.7 235.9 188.1 236.5 189C237.1 189.9 237.1 191 238 191.7C238.9 192.4 239.5 192.9 241.7 193.2C243.9 193.5 249 193.6 251.3 193.7C253.7 193.8 254.3 193.5 255.8 194C257.3 194.5 258.1 195.2 260.1 196.6C262.1 198 264.4 200 267.7 202.2C271 204.4 276.1 207.8 280.2 209.7C284.3 211.5 287.2 211.9 292.2 213.3C297.2 214.7 304.5 216.9 310 218.1C315.5 219.3 320.4 219.7 325 220.5C329.6 221.3 334.8 222.3 337.6 223C340.4 223.7 340.7 223.8 342 224.5C343.3 225.2 344.4 225.7 345.2 227.3C346 228.9 346.4 231.7 346.8 234C347.2 236.3 347.3 238.5 347.7 241C348.1 243.5 348.4 244.3 349.4 249C350.4 253.7 352.3 262.7 353.9 269C355.5 275.3 357.1 280.9 359 287C360.9 293.1 364.2 302.5 365.2 305.6" stroke="#7b6cc2" stroke-width="1.45"/>
<path d="M244 193.6C246 194.3 252.1 195.8 256.1 197.7C260.1 199.6 263.7 202.7 268.1 204.9C272.5 207.1 277.8 209.1 282.6 210.9C287.4 212.7 292.4 214.3 297 215.7C301.6 217.1 305.8 218.5 310 219.3C314.2 220.2 318.8 220.4 322 220.8C325.2 221.2 327.2 221.2 329 221.8C330.8 222.4 332 223.4 333 224.5C334 225.6 334.5 227.1 335.1 228.5C335.7 229.9 336.2 231.3 336.6 233C337 234.7 337.4 235.8 337.6 238.5C337.9 241.2 337.7 244.8 338.1 249C338.5 253.2 339.1 257.8 340.1 264C341.1 270.2 342.2 279.6 343.9 286.5C345.6 293.4 349.1 302.4 350.2 305.6" stroke="#72cbe2" stroke-width="1.45"/>
<path d="M241.7 204.2C243.5 204.8 249 206.7 252.5 207.5C256 208.3 259.4 208.5 262.5 209.3C265.6 210.1 268.6 210.8 271 212.2C273.4 213.6 275.6 215.5 277.2 217.7C278.8 219.9 279.9 222.9 280.9 225.2C281.9 227.5 282.1 229.1 283 231.5C283.9 233.9 285.3 236.8 286.2 239.8C287.1 242.8 287.6 245 288.6 249.4C289.6 253.8 290.8 260.4 292 266C293.2 271.6 295 278.2 296 283C297 287.8 297.6 292.8 297.9 294.8" stroke="#f6b377" stroke-width="1.45"/>
<path d="M262 201.5C263 201.7 264.2 202 268 202.8C271.8 203.6 279.8 205.2 285 206.1C290.2 207 293.9 207.4 299.4 208C304.9 208.6 311.6 209 318 209.6C324.4 210.2 330.9 210.8 337.6 211.5C344.3 212.2 351.7 212.8 358 213.6C364.3 214.3 370.5 215 375.3 216C380.1 217 383.7 218.2 387 219.5C390.3 220.8 393.1 222.2 395.3 223.5C397.6 224.8 399 226.2 400.5 227.5C402 228.8 402.9 229.6 404.1 231.5C405.4 233.4 406.8 236.4 408 239C409.2 241.6 410.3 244 411.6 247.3C412.9 250.6 414.5 255.4 416 259C417.5 262.6 419.1 265.8 420.4 269C421.6 272.2 422.7 275.9 423.5 278C424.3 280.1 424.5 280.5 425 281.5C425.5 282.5 426.4 283.6 426.7 284" stroke="#e9616c" stroke-width="1.45"/>
<path d="M327.1 214C328.9 214.4 334.1 215.4 338 216.4C341.9 217.4 346.5 218.5 350.2 219.8C353.9 221.1 357.1 222.5 360 224.2C362.9 225.9 365.4 228.1 367.7 229.8C369.9 231.5 371.8 233.2 373.5 234.6C375.2 236 376.6 237.4 377.8 238.5C379 239.6 379.8 240.5 380.6 241.4C381.4 242.3 382.4 243.6 382.8 244" stroke="#e8505e" stroke-width="1.45" stroke-dasharray="2 1.3" stroke-linecap="butt"/>
<path d="M275.7 206.8C277.2 207.5 282.1 209.9 284.7 211.2C287.2 212.5 288.6 213.3 291 214.5C293.4 215.7 295.9 217 299 218.1C302.1 219.2 306.6 220.4 309.6 221.1C312.6 221.8 315.3 221.7 317.1 222.3C318.9 222.9 319.7 223.7 320.6 224.6C321.5 225.5 321.8 226.7 322.3 228C322.8 229.3 323 231 323.6 232.5C324.2 234 325.1 235.9 326.1 236.9C327.1 237.9 328.9 238.2 329.5 238.4" stroke="#1b2062" stroke-width="1.7"/>
<path d="M241.2 200.1C242.5 199.8 246.4 198.7 248.9 198.4C251.4 198.1 253.7 198 256.1 198.4C258.5 198.8 261.2 200.2 263.3 200.8C265.4 201.5 267 202 269 202.3C271 202.6 272.7 202 275.3 202.8C277.9 203.6 282.2 206 284.7 207.1C287.1 208.2 287.6 208.2 290 209.3C292.4 210.4 295.7 212.5 299 213.6C302.3 214.7 306.3 215.2 309.6 215.8C312.9 216.4 316.5 216.3 318.6 216.9C320.7 217.5 321.3 218.2 322.4 219.6C323.5 221 324.4 223.7 325.4 225.6C326.4 227.5 327.6 229.8 328.4 230.9C329.2 232 330.1 232.2 330.4 232.4" stroke="#e0242e" stroke-width="1.8"/>
</g>
<line x1="443.2" y1="178.5" x2="452.4" y2="178.5" stroke="#bdb546" stroke-width="1.1"/>
<text x="454.3" y="181.6" class="san" font-size="8.7" fill="#555" textLength="18.8" lengthAdjust="spacingAndGlyphs">GaAs</text>
<line x1="443.2" y1="193.2" x2="452.4" y2="193.2" stroke="#8db33c" stroke-width="1.1"/>
<text x="454.3" y="196.3" class="san" font-size="8.7" fill="#555" textLength="5.8" lengthAdjust="spacingAndGlyphs">Si</text>
<line x1="443.2" y1="207.8" x2="452.4" y2="207.8" stroke="#7b6cc2" stroke-width="1.1"/>
<text x="454.3" y="210.9" class="san" font-size="8.7" fill="#555" textLength="10.8" lengthAdjust="spacingAndGlyphs">InP</text>
<line x1="443.2" y1="222.5" x2="452.4" y2="222.5" stroke="#e8505e" stroke-width="1.1" stroke-dasharray="1.6 1"/>
<text x="454.3" y="225.6" class="san" font-size="8.7" fill="#555" textLength="17.5" lengthAdjust="spacingAndGlyphs">CIGS</text>
<line x1="443.2" y1="237.1" x2="452.4" y2="237.1" stroke="#e9616c" stroke-width="1.1"/>
<text x="454.3" y="240.2" class="san" font-size="8.7" fill="#555" textLength="11.5" lengthAdjust="spacingAndGlyphs">CIS</text>
<line x1="443.2" y1="251.8" x2="452.4" y2="251.8" stroke="#72cbe2" stroke-width="1.1"/>
<text x="454.3" y="254.9" class="san" font-size="8.7" fill="#555" textLength="17.8" lengthAdjust="spacingAndGlyphs">CdTe</text>
<line x1="443.2" y1="266.5" x2="452.4" y2="266.5" stroke="#f6b377" stroke-width="1.1"/>
<text x="454.3" y="269.6" class="san" font-size="8.7" fill="#555" textLength="13.8" lengthAdjust="spacingAndGlyphs">CdS</text>
<line x1="443.2" y1="281.1" x2="452.4" y2="281.1" stroke="#e0242e" stroke-width="1.5"/>
<text x="454.3" y="284.2" class="san" font-size="8.7" fill="#555" textLength="41.5" lengthAdjust="spacingAndGlyphs">CH<tspan class="ls" dy="1.8">3</tspan><tspan dy="-1.8">NH</tspan><tspan class="ls" dy="1.8">3</tspan><tspan dy="-1.8">PbI</tspan><tspan class="ls" dy="1.8">3</tspan></text>
<line x1="443.2" y1="295.8" x2="452.4" y2="295.8" stroke="#1b2062" stroke-width="1.5"/>
<text x="454.3" y="298.9" class="san" font-size="8.7" fill="#555" textLength="55.6" lengthAdjust="spacingAndGlyphs">CH<tspan class="ls" dy="1.8">3</tspan><tspan dy="-1.8">NH</tspan><tspan class="ls" dy="1.8">3</tspan><tspan dy="-1.8">PbI</tspan><tspan class="ls" dy="1.8">3−<tspan font-style="italic">x</tspan></tspan><tspan dy="-1.8">Cl</tspan><tspan class="ls" font-style="italic" dy="1.8">x</tspan></text>
</g>
</svg>
</body></html>
